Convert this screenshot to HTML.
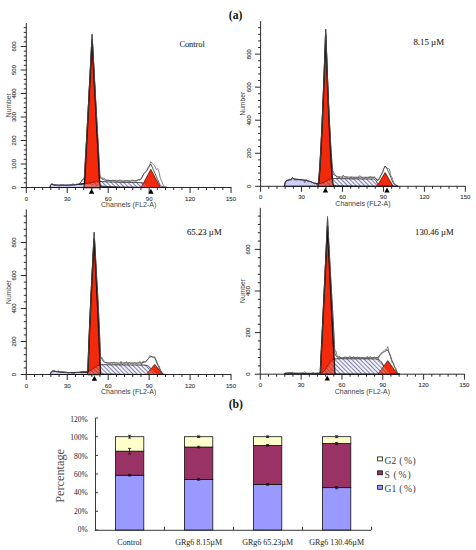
<!DOCTYPE html>
<html><head><meta charset="utf-8"><style>
html,body{margin:0;padding:0;background:#fff;}
svg{display:block;}
</style></head><body>
<svg width="476" height="550" viewBox="0 0 476 550">
<rect width="476" height="550" fill="#fff"/>
<defs><pattern id="hatch" patternUnits="userSpaceOnUse" width="3.0" height="3.0" patternTransform="rotate(-45)">
<rect width="3.0" height="3.0" fill="#f3f3fc"/><line x1="0.5" y1="0" x2="0.5" y2="3.0" stroke="#6e6e9c" stroke-width="0.85"/></pattern>
<pattern id="hatch2" patternUnits="userSpaceOnUse" width="3.0" height="3.0" patternTransform="rotate(-45)">
<rect width="3.0" height="3.0" fill="#f0e0f0" fill-opacity="0.3"/><line x1="0.5" y1="0" x2="0.5" y2="3.0" stroke="#601010" stroke-opacity="0.45" stroke-width="0.85"/></pattern></defs>
<path d="M49.78,187.50 L49.78,187.50 50.46,185.44 51.14,184.52 51.83,184.07 52.51,184.30 53.19,184.54 53.87,184.73 54.56,184.84 55.24,184.96 55.92,185.08 56.60,185.15 57.29,185.15 57.97,185.15 58.65,185.15 59.33,185.15 60.02,185.15 60.70,185.15 61.38,185.15 62.06,185.15 62.75,185.15 63.43,185.15 64.11,185.15 64.79,185.15 65.48,185.15 66.16,185.15 66.84,185.15 67.52,185.14 68.21,185.11 68.89,185.08 69.57,185.05 70.25,185.02 70.94,184.99 71.62,184.96 72.30,184.93 72.98,184.89 73.67,184.83 74.35,184.77 75.03,184.72 75.71,184.66 76.40,184.60 77.08,184.54 77.76,184.48 78.44,184.41 79.13,184.32 79.81,184.23 80.49,184.15 81.17,184.06 81.86,183.97 82.54,183.88 83.22,183.79 83.90,183.79 84.59,183.90 85.27,184.02 85.95,184.14 86.63,184.26 87.32,184.37 88.00,184.49 88.68,184.61 89.36,184.73 90.05,184.84 90.73,184.96 91.41,185.08 92.09,185.20 92.78,185.31 93.46,185.43 94.14,185.55 94.82,185.64 95.51,185.70 96.19,185.76 96.87,185.82 97.55,185.88 98.24,185.94 98.92,186.00 99.60,186.05 100.28,186.11 100.97,186.14 101.65,186.18 102.33,186.22 103.01,186.26 103.70,186.30 104.38,186.34 105.06,186.38 105.74,186.42 106.43,186.46 107.11,186.50 107.79,186.54 108.47,186.57 109.16,186.59 109.84,186.62 110.52,186.64 111.20,186.66 111.89,186.69 112.57,186.71 113.25,186.73 113.93,186.76 114.62,186.78 115.30,186.80 115.98,186.83 116.66,186.85 117.35,186.87 118.03,186.90 118.71,186.92 119.39,186.95 120.08,186.97 120.76,186.99 121.44,187.02 122.12,187.03 122.81,187.04 123.49,187.05 124.17,187.06 124.85,187.07 125.54,187.08 126.22,187.09 126.90,187.10 127.58,187.10 128.27,187.11 128.95,187.12 129.63,187.13 130.31,187.14 131.00,187.15 131.68,187.16 132.36,187.17 133.04,187.17 133.73,187.18 134.41,187.19 135.09,187.20 135.77,187.21 136.46,187.22 137.14,187.23 137.82,187.24 138.50,187.25 139.19,187.25 139.87,187.26 140.55,187.27 141.23,187.28 141.92,187.29 142.60,187.30 143.28,187.31 143.96,187.32 144.65,187.32 145.33,187.33 146.01,187.34 146.69,187.35 147.38,187.36 148.06,187.37 148.74,187.38 149.42,187.38 150.11,187.39 150.79,187.39 151.47,187.40 152.15,187.40 152.84,187.41 153.52,187.41 154.20,187.41 154.88,187.42 155.57,187.42 156.25,187.43 156.93,187.43 157.61,187.43 158.30,187.44 158.98,187.44 159.66,187.45 160.34,187.45 161.03,187.46 161.71,187.46 162.39,187.46 163.07,187.47 163.76,187.47 164.44,187.48 165.12,187.48 165.80,187.48 166.49,187.49 167.17,187.49 167.85,187.50 L167.85,187.50 Z" fill="#cdcdf5" stroke="#14143a" stroke-width="0.95"/>
<path d="M78.44,184.40 79.13,184.31 79.81,184.21 80.49,184.11 81.17,184.00 81.86,183.89 82.54,183.77 83.22,183.63 83.90,183.56 84.59,183.59 85.27,183.60 85.95,183.59 86.63,183.55 87.32,183.48 88.00,183.38 88.68,183.26 89.36,183.12 90.05,182.96 90.73,182.79 91.41,182.61 92.09,182.44 92.78,182.28 93.46,182.13 94.14,182.01 94.82,181.88 95.51,181.75 96.19,181.64 96.87,181.56 97.55,181.51 98.24,181.48 98.92,181.47 99.60,181.48 100.28,181.49 100.97,181.50 101.65,181.52 102.33,181.55 103.01,181.58 103.70,181.61 104.38,181.65 105.06,181.68 105.74,181.72 106.43,181.76 107.11,181.80 107.79,181.84 108.47,181.87 109.16,181.89 109.84,181.92 110.52,181.94 111.20,181.96 111.89,181.99 112.57,182.01 113.25,182.03 113.93,182.06 114.62,182.08 115.30,182.10 115.98,182.13 116.66,182.15 117.35,182.17 118.03,182.20 118.71,182.22 119.39,182.25 120.08,182.27 120.76,182.29 121.44,182.32 122.12,182.33 122.81,182.34 123.49,182.35 124.17,182.36 124.85,182.37 125.54,182.38 126.22,182.39 126.90,182.40 127.58,182.40 128.27,182.41 128.95,182.42 129.63,182.43 130.31,182.44 131.00,182.45 131.68,182.46 132.36,182.47 133.04,182.47 133.73,182.48 134.41,182.49 135.09,182.50 135.77,182.51 136.46,182.52 137.14,182.53 137.82,182.54 138.50,182.55 139.19,182.55 139.87,182.57 140.55,182.59 141.23,182.63 141.92,182.72 142.60,182.91 143.28,183.26 143.96,183.80 144.65,184.51 145.33,185.29 146.01,186.03 146.69,186.61 147.38,186.99 148.06,187.21 148.74,187.32 149.42,187.37 L149.42,187.38 148.74,187.38 148.06,187.37 147.38,187.36 146.69,187.35 146.01,187.34 145.33,187.33 144.65,187.32 143.96,187.32 143.28,187.31 142.60,187.30 141.92,187.29 141.23,187.28 140.55,187.27 139.87,187.26 139.19,187.25 138.50,187.25 137.82,187.24 137.14,187.23 136.46,187.22 135.77,187.21 135.09,187.20 134.41,187.19 133.73,187.18 133.04,187.17 132.36,187.17 131.68,187.16 131.00,187.15 130.31,187.14 129.63,187.13 128.95,187.12 128.27,187.11 127.58,187.10 126.90,187.10 126.22,187.09 125.54,187.08 124.85,187.07 124.17,187.06 123.49,187.05 122.81,187.04 122.12,187.03 121.44,187.02 120.76,186.99 120.08,186.97 119.39,186.95 118.71,186.92 118.03,186.90 117.35,186.87 116.66,186.85 115.98,186.83 115.30,186.80 114.62,186.78 113.93,186.76 113.25,186.73 112.57,186.71 111.89,186.69 111.20,186.66 110.52,186.64 109.84,186.62 109.16,186.59 108.47,186.57 107.79,186.54 107.11,186.50 106.43,186.46 105.74,186.42 105.06,186.38 104.38,186.34 103.70,186.30 103.01,186.26 102.33,186.22 101.65,186.18 100.97,186.14 100.28,186.11 99.60,186.05 98.92,186.00 98.24,185.94 97.55,185.88 96.87,185.82 96.19,185.76 95.51,185.70 94.82,185.64 94.14,185.55 93.46,185.43 92.78,185.31 92.09,185.20 91.41,185.08 90.73,184.96 90.05,184.84 89.36,184.73 88.68,184.61 88.00,184.49 87.32,184.37 86.63,184.26 85.95,184.14 85.27,184.02 84.59,183.90 83.90,183.79 83.22,183.79 82.54,183.88 81.86,183.97 81.17,184.06 80.49,184.15 79.81,184.23 79.13,184.32 78.44,184.41 Z" fill="url(#hatch)" stroke="#111" stroke-width="0.85"/>
<path d="M84.24,187.50 84.24,187.50 84.38,184.93 84.52,182.36 84.65,179.79 84.79,177.22 84.93,174.65 85.06,172.08 85.20,169.51 85.34,166.93 85.47,164.36 85.61,161.79 85.75,159.22 85.88,156.65 86.02,154.08 86.16,151.51 86.29,148.94 86.43,146.37 86.56,143.80 86.70,141.23 86.84,138.66 86.97,136.09 87.11,133.52 87.25,130.94 87.38,128.37 87.52,125.80 87.66,123.23 87.79,120.66 87.93,118.09 88.07,115.52 88.20,112.95 88.34,110.38 88.48,107.81 88.61,105.24 88.75,102.67 88.89,100.10 89.02,97.53 89.16,94.95 89.29,92.38 89.43,89.81 89.57,87.24 89.70,84.67 89.84,82.10 89.98,79.53 90.11,76.96 90.25,74.39 90.39,71.82 90.52,69.25 90.66,66.68 90.80,64.11 90.93,61.54 91.07,58.97 91.21,56.39 91.34,53.82 91.48,51.25 91.62,48.68 91.75,46.11 91.89,43.54 92.02,40.97 92.09,39.69 92.16,40.97 92.30,43.54 92.43,46.11 92.57,48.68 92.71,51.25 92.84,53.82 92.98,56.39 93.12,58.97 93.25,61.54 93.39,64.11 93.53,66.68 93.66,69.25 93.80,71.82 93.94,74.39 94.07,76.96 94.21,79.53 94.35,82.10 94.48,84.67 94.62,87.24 94.75,89.81 94.89,92.38 95.03,94.95 95.16,97.53 95.30,100.10 95.44,102.67 95.57,105.24 95.71,107.81 95.85,110.38 95.98,112.95 96.12,115.52 96.26,118.09 96.39,120.66 96.53,123.23 96.67,125.80 96.80,128.37 96.94,130.94 97.08,133.52 97.21,136.09 97.35,138.66 97.48,141.23 97.62,143.80 97.76,146.37 97.89,148.94 98.03,151.51 98.17,154.08 98.30,156.65 98.44,159.22 98.58,161.79 98.71,164.36 98.85,166.93 98.99,169.51 99.12,172.08 99.26,174.65 99.40,177.22 99.53,179.79 99.67,182.36 99.81,184.93 99.94,187.50 99.94,187.50 Z" fill="#f2290a" stroke="#1a0000" stroke-width="1.45" stroke-linejoin="round"/>
<path d="M141.10,187.50 141.10,187.50 141.23,187.24 141.37,186.99 141.51,186.73 141.65,186.47 141.78,186.22 141.92,185.96 142.06,185.70 142.20,185.45 142.33,185.19 142.47,184.93 142.61,184.68 142.75,184.42 142.88,184.16 143.02,183.91 143.16,183.65 143.30,183.39 143.43,183.14 143.57,182.88 143.71,182.62 143.85,182.37 143.98,182.11 144.12,181.85 144.26,181.60 144.40,181.34 144.53,181.08 144.67,180.83 144.81,180.57 144.95,180.31 145.08,180.06 145.22,179.80 145.36,179.54 145.50,179.29 145.63,179.03 145.77,178.77 145.91,178.52 146.05,178.26 146.18,178.00 146.32,177.75 146.46,177.49 146.60,177.23 146.73,176.98 146.87,176.72 147.01,176.46 147.15,176.21 147.28,175.95 147.42,175.69 147.56,175.44 147.69,175.18 147.83,174.92 147.97,174.67 148.11,174.41 148.24,174.15 148.38,173.90 148.52,173.64 148.66,173.38 148.79,173.13 148.93,172.87 149.07,172.61 149.21,172.36 149.34,172.10 149.48,171.84 149.62,171.59 149.76,171.33 149.89,171.07 150.03,170.82 150.17,170.56 150.31,170.30 150.44,170.05 150.58,169.79 150.72,169.53 150.79,169.41 150.86,169.53 150.99,169.79 151.13,170.05 151.27,170.30 151.41,170.56 151.54,170.82 151.68,171.07 151.82,171.33 151.96,171.59 152.09,171.84 152.23,172.10 152.37,172.36 152.51,172.61 152.64,172.87 152.78,173.13 152.92,173.38 153.06,173.64 153.19,173.90 153.33,174.15 153.47,174.41 153.61,174.67 153.74,174.92 153.88,175.18 154.02,175.44 154.16,175.69 154.29,175.95 154.43,176.21 154.57,176.46 154.71,176.72 154.84,176.98 154.98,177.23 155.12,177.49 155.26,177.75 155.39,178.00 155.53,178.26 155.67,178.52 155.81,178.77 155.94,179.03 156.08,179.29 156.22,179.54 156.36,179.80 156.49,180.06 156.63,180.31 156.77,180.57 156.91,180.83 157.04,181.08 157.18,181.34 157.32,181.60 157.46,181.85 157.59,182.11 157.73,182.37 157.87,182.62 158.01,182.88 158.14,183.14 158.28,183.39 158.42,183.65 158.55,183.91 158.69,184.16 158.83,184.42 158.97,184.68 159.10,184.93 159.24,185.19 159.38,185.45 159.52,185.70 159.65,185.96 159.79,186.22 159.93,186.47 160.07,186.73 160.20,186.99 160.34,187.24 160.48,187.50 160.48,187.50 Z" fill="#f2290a" stroke="#3a0505" stroke-width="0.9" stroke-linejoin="round"/>
<clipPath id="rc1"><path d="M84.24,187.50 84.24,187.50 84.38,184.93 84.52,182.36 84.65,179.79 84.79,177.22 84.93,174.65 85.06,172.08 85.20,169.51 85.34,166.93 85.47,164.36 85.61,161.79 85.75,159.22 85.88,156.65 86.02,154.08 86.16,151.51 86.29,148.94 86.43,146.37 86.56,143.80 86.70,141.23 86.84,138.66 86.97,136.09 87.11,133.52 87.25,130.94 87.38,128.37 87.52,125.80 87.66,123.23 87.79,120.66 87.93,118.09 88.07,115.52 88.20,112.95 88.34,110.38 88.48,107.81 88.61,105.24 88.75,102.67 88.89,100.10 89.02,97.53 89.16,94.95 89.29,92.38 89.43,89.81 89.57,87.24 89.70,84.67 89.84,82.10 89.98,79.53 90.11,76.96 90.25,74.39 90.39,71.82 90.52,69.25 90.66,66.68 90.80,64.11 90.93,61.54 91.07,58.97 91.21,56.39 91.34,53.82 91.48,51.25 91.62,48.68 91.75,46.11 91.89,43.54 92.02,40.97 92.09,39.69 92.16,40.97 92.30,43.54 92.43,46.11 92.57,48.68 92.71,51.25 92.84,53.82 92.98,56.39 93.12,58.97 93.25,61.54 93.39,64.11 93.53,66.68 93.66,69.25 93.80,71.82 93.94,74.39 94.07,76.96 94.21,79.53 94.35,82.10 94.48,84.67 94.62,87.24 94.75,89.81 94.89,92.38 95.03,94.95 95.16,97.53 95.30,100.10 95.44,102.67 95.57,105.24 95.71,107.81 95.85,110.38 95.98,112.95 96.12,115.52 96.26,118.09 96.39,120.66 96.53,123.23 96.67,125.80 96.80,128.37 96.94,130.94 97.08,133.52 97.21,136.09 97.35,138.66 97.48,141.23 97.62,143.80 97.76,146.37 97.89,148.94 98.03,151.51 98.17,154.08 98.30,156.65 98.44,159.22 98.58,161.79 98.71,164.36 98.85,166.93 98.99,169.51 99.12,172.08 99.26,174.65 99.40,177.22 99.53,179.79 99.67,182.36 99.81,184.93 99.94,187.50 99.94,187.50 Z M141.10,187.50 141.10,187.50 141.23,187.24 141.37,186.99 141.51,186.73 141.65,186.47 141.78,186.22 141.92,185.96 142.06,185.70 142.20,185.45 142.33,185.19 142.47,184.93 142.61,184.68 142.75,184.42 142.88,184.16 143.02,183.91 143.16,183.65 143.30,183.39 143.43,183.14 143.57,182.88 143.71,182.62 143.85,182.37 143.98,182.11 144.12,181.85 144.26,181.60 144.40,181.34 144.53,181.08 144.67,180.83 144.81,180.57 144.95,180.31 145.08,180.06 145.22,179.80 145.36,179.54 145.50,179.29 145.63,179.03 145.77,178.77 145.91,178.52 146.05,178.26 146.18,178.00 146.32,177.75 146.46,177.49 146.60,177.23 146.73,176.98 146.87,176.72 147.01,176.46 147.15,176.21 147.28,175.95 147.42,175.69 147.56,175.44 147.69,175.18 147.83,174.92 147.97,174.67 148.11,174.41 148.24,174.15 148.38,173.90 148.52,173.64 148.66,173.38 148.79,173.13 148.93,172.87 149.07,172.61 149.21,172.36 149.34,172.10 149.48,171.84 149.62,171.59 149.76,171.33 149.89,171.07 150.03,170.82 150.17,170.56 150.31,170.30 150.44,170.05 150.58,169.79 150.72,169.53 150.79,169.41 150.86,169.53 150.99,169.79 151.13,170.05 151.27,170.30 151.41,170.56 151.54,170.82 151.68,171.07 151.82,171.33 151.96,171.59 152.09,171.84 152.23,172.10 152.37,172.36 152.51,172.61 152.64,172.87 152.78,173.13 152.92,173.38 153.06,173.64 153.19,173.90 153.33,174.15 153.47,174.41 153.61,174.67 153.74,174.92 153.88,175.18 154.02,175.44 154.16,175.69 154.29,175.95 154.43,176.21 154.57,176.46 154.71,176.72 154.84,176.98 154.98,177.23 155.12,177.49 155.26,177.75 155.39,178.00 155.53,178.26 155.67,178.52 155.81,178.77 155.94,179.03 156.08,179.29 156.22,179.54 156.36,179.80 156.49,180.06 156.63,180.31 156.77,180.57 156.91,180.83 157.04,181.08 157.18,181.34 157.32,181.60 157.46,181.85 157.59,182.11 157.73,182.37 157.87,182.62 158.01,182.88 158.14,183.14 158.28,183.39 158.42,183.65 158.55,183.91 158.69,184.16 158.83,184.42 158.97,184.68 159.10,184.93 159.24,185.19 159.38,185.45 159.52,185.70 159.65,185.96 159.79,186.22 159.93,186.47 160.07,186.73 160.20,186.99 160.34,187.24 160.48,187.50 160.48,187.50 Z"/></clipPath>
<path d="M78.44,184.40 79.13,184.31 79.81,184.21 80.49,184.11 81.17,184.00 81.86,183.89 82.54,183.77 83.22,183.63 83.90,183.56 84.59,183.59 85.27,183.60 85.95,183.59 86.63,183.55 87.32,183.48 88.00,183.38 88.68,183.26 89.36,183.12 90.05,182.96 90.73,182.79 91.41,182.61 92.09,182.44 92.78,182.28 93.46,182.13 94.14,182.01 94.82,181.88 95.51,181.75 96.19,181.64 96.87,181.56 97.55,181.51 98.24,181.48 98.92,181.47 99.60,181.48 100.28,181.49 100.97,181.50 101.65,181.52 102.33,181.55 103.01,181.58 103.70,181.61 104.38,181.65 105.06,181.68 105.74,181.72 106.43,181.76 107.11,181.80 107.79,181.84 108.47,181.87 109.16,181.89 109.84,181.92 110.52,181.94 111.20,181.96 111.89,181.99 112.57,182.01 113.25,182.03 113.93,182.06 114.62,182.08 115.30,182.10 115.98,182.13 116.66,182.15 117.35,182.17 118.03,182.20 118.71,182.22 119.39,182.25 120.08,182.27 120.76,182.29 121.44,182.32 122.12,182.33 122.81,182.34 123.49,182.35 124.17,182.36 124.85,182.37 125.54,182.38 126.22,182.39 126.90,182.40 127.58,182.40 128.27,182.41 128.95,182.42 129.63,182.43 130.31,182.44 131.00,182.45 131.68,182.46 132.36,182.47 133.04,182.47 133.73,182.48 134.41,182.49 135.09,182.50 135.77,182.51 136.46,182.52 137.14,182.53 137.82,182.54 138.50,182.55 139.19,182.55 139.87,182.57 140.55,182.59 141.23,182.63 141.92,182.72 142.60,182.91 143.28,183.26 143.96,183.80 144.65,184.51 145.33,185.29 146.01,186.03 146.69,186.61 147.38,186.99 148.06,187.21 148.74,187.32 149.42,187.37 L149.42,187.38 148.74,187.38 148.06,187.37 147.38,187.36 146.69,187.35 146.01,187.34 145.33,187.33 144.65,187.32 143.96,187.32 143.28,187.31 142.60,187.30 141.92,187.29 141.23,187.28 140.55,187.27 139.87,187.26 139.19,187.25 138.50,187.25 137.82,187.24 137.14,187.23 136.46,187.22 135.77,187.21 135.09,187.20 134.41,187.19 133.73,187.18 133.04,187.17 132.36,187.17 131.68,187.16 131.00,187.15 130.31,187.14 129.63,187.13 128.95,187.12 128.27,187.11 127.58,187.10 126.90,187.10 126.22,187.09 125.54,187.08 124.85,187.07 124.17,187.06 123.49,187.05 122.81,187.04 122.12,187.03 121.44,187.02 120.76,186.99 120.08,186.97 119.39,186.95 118.71,186.92 118.03,186.90 117.35,186.87 116.66,186.85 115.98,186.83 115.30,186.80 114.62,186.78 113.93,186.76 113.25,186.73 112.57,186.71 111.89,186.69 111.20,186.66 110.52,186.64 109.84,186.62 109.16,186.59 108.47,186.57 107.79,186.54 107.11,186.50 106.43,186.46 105.74,186.42 105.06,186.38 104.38,186.34 103.70,186.30 103.01,186.26 102.33,186.22 101.65,186.18 100.97,186.14 100.28,186.11 99.60,186.05 98.92,186.00 98.24,185.94 97.55,185.88 96.87,185.82 96.19,185.76 95.51,185.70 94.82,185.64 94.14,185.55 93.46,185.43 92.78,185.31 92.09,185.20 91.41,185.08 90.73,184.96 90.05,184.84 89.36,184.73 88.68,184.61 88.00,184.49 87.32,184.37 86.63,184.26 85.95,184.14 85.27,184.02 84.59,183.90 83.90,183.79 83.22,183.79 82.54,183.88 81.86,183.97 81.17,184.06 80.49,184.15 79.81,184.23 79.13,184.32 78.44,184.41 Z" fill="url(#hatch2)" stroke="none" clip-path="url(#rc1)"/>
<path d="M84.24,187.50 L84.24,187.50 84.38,184.93 84.52,183.89 84.65,183.92 84.79,183.94 84.93,183.96 85.06,183.99 85.20,184.01 85.34,184.03 85.47,184.06 85.61,184.08 85.75,184.10 85.88,184.13 86.02,184.15 86.16,184.17 86.29,184.20 86.43,184.22 86.56,184.25 86.70,184.27 86.84,184.29 86.97,184.32 87.11,184.34 87.25,184.36 87.38,184.39 87.52,184.41 87.66,184.43 87.79,184.46 87.93,184.48 88.07,184.50 88.20,184.53 88.34,184.55 88.48,184.57 88.61,184.60 88.75,184.62 88.89,184.64 89.02,184.67 89.16,184.69 89.29,184.72 89.43,184.74 89.57,184.76 89.70,184.79 89.84,184.81 89.98,184.83 90.11,184.86 90.25,184.88 90.39,184.90 90.52,184.93 90.66,184.95 90.80,184.97 90.93,185.00 91.07,185.02 91.21,185.04 91.34,185.07 91.48,185.09 91.62,185.11 91.75,185.14 91.89,185.16 92.02,185.19 92.16,185.21 92.30,185.23 92.43,185.26 92.57,185.28 92.71,185.30 92.84,185.33 92.98,185.35 93.12,185.37 93.25,185.40 93.39,185.42 93.53,185.44 93.66,185.47 93.80,185.49 93.94,185.51 94.07,185.54 94.21,185.56 94.35,185.58 94.48,185.61 94.62,185.63 94.75,185.64 94.89,185.65 95.03,185.66 95.16,185.67 95.30,185.68 95.44,185.70 95.57,185.71 95.71,185.72 95.85,185.73 95.98,185.74 96.12,185.76 96.26,185.77 96.39,185.78 96.53,185.79 96.67,185.80 96.80,185.81 96.94,185.83 97.08,185.84 97.21,185.85 97.35,185.86 97.48,185.87 97.62,185.88 97.76,185.90 97.89,185.91 98.03,185.92 98.17,185.93 98.30,185.94 98.44,185.95 98.58,185.97 98.71,185.98 98.85,185.99 98.99,186.00 99.12,186.01 99.26,186.03 99.40,186.04 99.53,186.05 99.67,186.06 99.81,186.07 99.94,187.50 L99.94,187.50 Z" fill="#dcd0f0" fill-opacity="0.45" stroke="none"/>
<polyline points="84.52,183.59 84.65,183.59 84.79,183.60 84.93,183.60 85.06,183.60 85.20,183.60 85.34,183.60 85.47,183.60 85.61,183.60 85.75,183.59 85.88,183.59 86.02,183.58 86.16,183.58 86.29,183.57 86.43,183.56 86.56,183.55 86.70,183.54 86.84,183.53 86.97,183.52 87.11,183.50 87.25,183.49 87.38,183.47 87.52,183.45 87.66,183.43 87.79,183.41 87.93,183.39 88.07,183.37 88.20,183.35 88.34,183.32 88.48,183.30 88.61,183.27 88.75,183.25 88.89,183.22 89.02,183.19 89.16,183.16 89.29,183.13 89.43,183.10 89.57,183.07 89.70,183.04 89.84,183.01 89.98,182.98 90.11,182.94 90.25,182.91 90.39,182.87 90.52,182.84 90.66,182.80 90.80,182.77 90.93,182.74 91.07,182.70 91.21,182.66 91.34,182.63 91.48,182.59 91.62,182.56 91.75,182.53 91.89,182.49 92.02,182.46 92.16,182.42 92.30,182.39 92.43,182.36 92.57,182.32 92.71,182.29 92.84,182.26 92.98,182.23 93.12,182.20 93.25,182.17 93.39,182.14 93.53,182.12 93.66,182.09 93.80,182.07 93.94,182.04 94.07,182.02 94.21,181.99 94.35,181.97 94.48,181.95 94.62,181.93 94.75,181.90 94.89,181.87 95.03,181.84 95.16,181.81 95.30,181.78 95.44,181.76 95.57,181.74 95.71,181.71 95.85,181.69 95.98,181.67 96.12,181.65 96.26,181.63 96.39,181.62 96.53,181.60 96.67,181.59 96.80,181.57 96.94,181.56 97.08,181.55 97.21,181.54 97.35,181.53 97.48,181.52 97.62,181.51 97.76,181.50 97.89,181.49 98.03,181.49 98.17,181.48 98.30,181.48 98.44,181.48 98.58,181.47 98.71,181.47 98.85,181.47 98.99,181.47 99.12,181.47 99.26,181.47 99.40,181.48 99.53,181.48" fill="none" stroke="#5a0000" stroke-width="0.6"/>
<polyline points="49.78,187.50 51.14,184.52 52.51,184.30 53.87,184.73 55.24,184.96 56.60,185.15 57.97,185.15 59.33,185.15 60.70,185.15 62.06,185.15 63.43,185.15 64.79,185.15 66.16,185.15 67.52,185.14 68.89,185.08 70.25,185.02 71.62,184.96 72.98,184.89 74.35,184.77 75.71,184.66 77.08,184.53 78.44,184.30 79.81,183.58 81.17,181.80 82.54,179.54 83.90,179.07 84.31,178.23 84.45,175.84 84.59,173.47 84.72,171.10 84.86,168.74 85.00,166.39 85.13,164.04 85.27,161.69 85.40,159.33 85.54,156.97 85.68,154.60 85.81,152.23 85.95,149.84 86.09,147.44 86.22,145.02 86.36,142.60 86.50,140.16 86.63,137.70 86.77,135.24 86.91,132.76 87.04,130.27 87.18,127.76 87.32,125.25 87.45,122.72 87.59,120.19 87.72,117.64 87.86,115.09 88.00,112.53 88.13,109.97 88.27,107.40 88.41,104.82 88.54,102.24 88.68,99.66 88.82,97.07 88.95,94.48 89.09,91.89 89.23,89.30 89.36,86.70 89.50,84.10 89.64,81.50 89.77,78.90 89.91,76.30 90.05,73.70 90.18,71.10 90.32,68.49 90.45,65.89 90.59,63.28 90.73,60.68 90.86,58.07 91.00,55.47 91.14,52.86 91.27,50.25 91.41,47.65 91.55,45.04 91.68,42.43 91.82,39.83 91.96,37.22 92.09,34.61 92.23,37.15 92.37,39.68 92.50,42.21 92.64,44.75 92.78,47.28 92.91,49.81 93.05,52.34 93.19,54.87 93.32,57.40 93.46,59.93 93.59,62.46 93.73,64.99 93.87,67.51 94.00,70.03 94.14,72.55 94.28,75.07 94.41,77.58 94.55,80.09 94.69,82.59 94.82,85.08 94.96,87.57 95.10,90.05 95.23,92.53 95.37,95.00 95.51,97.47 95.64,99.93 95.78,102.39 95.91,104.84 96.05,107.29 96.19,109.73 96.32,112.17 96.46,114.61 96.60,117.04 96.73,119.46 96.87,121.89 97.01,124.31 97.14,126.73 97.28,129.15 97.42,131.57 97.55,134.00 97.69,136.42 97.83,138.85 97.96,141.29 98.10,143.73 98.24,146.17 98.37,148.63 98.51,151.09 98.64,153.56 98.78,156.05 98.92,158.54 99.05,161.05 99.19,163.56 99.33,166.10 99.46,168.64 99.60,171.19 99.74,173.76 99.87,176.34 100.28,177.72 101.65,178.54 103.01,179.48 104.38,180.03 105.74,180.27 107.11,180.38 108.47,180.46 109.84,180.51 111.20,180.55 112.57,180.60 113.93,180.65 115.30,180.69 116.66,180.74 118.03,180.79 119.39,180.84 120.76,180.88 122.12,180.92 123.49,180.94 124.85,180.95 126.22,180.96 127.58,180.97 128.95,180.97 130.31,180.95 131.68,180.90 133.04,180.83 134.41,180.70 135.77,180.51 137.14,180.24 138.50,179.89 139.87,179.46 141.23,178.73 142.60,175.90 143.96,173.67 145.33,172.13 146.69,170.57 148.06,168.52 149.42,166.24 150.79,164.02 152.15,167.01 153.52,170.07 154.88,173.19 156.25,176.35 157.61,179.50 158.98,182.63 160.34,185.69 161.71,186.37 163.07,186.72 164.44,186.98 165.80,187.17 167.17,187.30" fill="none" stroke="#1a1a1a" stroke-width="0.7" stroke-linejoin="round"/>
<polyline points="49.78,186.83 51.14,183.71 52.51,184.27 53.87,185.15 55.24,185.57 56.60,185.13 57.97,185.71 59.33,185.94 60.70,185.04 62.06,185.08 63.43,184.85 64.79,185.65 66.16,185.15 67.52,185.17 68.89,185.91 70.25,184.72 71.62,184.78 72.98,183.56 74.35,184.66 75.71,184.74 77.08,183.84 78.44,184.19 79.81,183.05 81.17,182.02 82.54,179.40 83.90,178.42 84.31,177.62 84.45,175.23 84.59,172.84 84.72,170.47 84.86,168.11 85.00,165.76 85.13,163.41 85.27,161.07 85.40,158.74 85.54,156.41 85.68,154.08 85.81,151.74 85.95,149.41 86.09,147.07 86.22,144.72 86.36,142.35 86.50,139.97 86.63,137.57 86.77,135.23 86.91,132.88 87.04,130.51 87.18,128.13 87.32,125.74 87.45,123.34 87.59,120.93 87.72,118.51 87.86,116.09 88.00,113.65 88.13,110.93 88.27,108.20 88.41,105.47 88.54,102.73 88.68,99.99 88.82,97.25 88.95,94.50 89.09,91.75 89.23,89.00 89.36,86.24 89.50,83.68 89.64,81.12 89.77,78.56 89.91,75.99 90.05,73.43 90.18,70.86 90.32,68.30 90.45,65.73 90.59,63.17 90.73,60.60 90.86,57.93 91.00,55.25 91.14,52.58 91.27,49.91 91.41,47.23 91.55,44.56 91.68,41.89 91.82,39.21 91.96,36.54 92.09,33.87 92.23,36.45 92.37,39.04 92.50,41.62 92.64,44.21 92.78,46.79 92.91,49.38 93.05,51.96 93.19,54.55 93.32,57.13 93.46,59.71 93.59,62.15 93.73,64.58 93.87,67.02 94.00,69.45 94.14,71.88 94.28,74.30 94.41,76.73 94.55,79.15 94.69,81.55 94.82,83.95 94.96,86.56 95.10,89.16 95.23,91.75 95.37,94.34 95.51,96.93 95.64,99.51 95.78,102.08 95.91,104.64 96.05,107.20 96.19,109.75 96.32,112.15 96.46,114.53 96.60,116.91 96.73,119.27 96.87,121.62 97.01,123.96 97.14,126.28 97.28,128.59 97.42,130.88 97.55,133.16 97.69,135.40 97.83,137.63 97.96,139.85 98.10,142.07 98.24,144.29 98.37,146.52 98.51,148.76 98.64,151.02 98.78,153.33 98.92,155.67 99.05,158.27 99.19,160.90 99.33,163.56 99.46,166.26 99.60,168.98 99.74,171.74 99.87,174.51 100.28,176.59 101.65,177.54 103.01,178.41 104.38,178.09 105.74,180.20 107.11,179.97 108.47,180.07 109.84,180.68 111.20,181.51 112.57,180.00 113.93,180.90 115.30,180.25 116.66,181.55 118.03,181.06 119.39,180.06 120.76,180.00 122.12,181.72 123.49,181.76 124.85,180.98 126.22,180.52 127.58,180.87 128.95,180.78 130.31,181.55 131.68,180.54 133.04,180.14 134.41,180.97 135.77,181.40 137.14,180.72 138.50,179.41 139.87,180.56 141.23,178.79 142.60,176.58 143.96,173.77 145.33,172.31 146.69,170.55 148.06,167.31 149.42,165.72 150.79,161.64 152.15,163.38 153.52,164.78 154.88,166.15 156.25,169.64 157.61,168.47 158.98,171.72 160.34,178.32 161.71,181.25 163.07,184.80 164.44,187.49 165.80,187.05 167.17,187.50" fill="none" stroke="#555" stroke-width="0.7" stroke-linejoin="round"/>
<g stroke="#141414" stroke-width="0.9"><line x1="26.30" y1="23.00" x2="26.30" y2="193.00"/><line x1="20.80" y1="187.50" x2="231.45" y2="187.50"/><line x1="23.80" y1="182.80" x2="26.30" y2="182.80"/><line x1="23.80" y1="178.10" x2="26.30" y2="178.10"/><line x1="23.80" y1="173.40" x2="26.30" y2="173.40"/><line x1="23.80" y1="168.70" x2="26.30" y2="168.70"/><line x1="20.80" y1="164.00" x2="26.30" y2="164.00"/><line x1="23.80" y1="159.30" x2="26.30" y2="159.30"/><line x1="23.80" y1="154.60" x2="26.30" y2="154.60"/><line x1="23.80" y1="149.90" x2="26.30" y2="149.90"/><line x1="23.80" y1="145.20" x2="26.30" y2="145.20"/><line x1="20.80" y1="140.50" x2="26.30" y2="140.50"/><line x1="23.80" y1="135.80" x2="26.30" y2="135.80"/><line x1="23.80" y1="131.10" x2="26.30" y2="131.10"/><line x1="23.80" y1="126.40" x2="26.30" y2="126.40"/><line x1="23.80" y1="121.70" x2="26.30" y2="121.70"/><line x1="20.80" y1="117.00" x2="26.30" y2="117.00"/><line x1="23.80" y1="112.30" x2="26.30" y2="112.30"/><line x1="23.80" y1="107.60" x2="26.30" y2="107.60"/><line x1="23.80" y1="102.90" x2="26.30" y2="102.90"/><line x1="23.80" y1="98.20" x2="26.30" y2="98.20"/><line x1="20.80" y1="93.50" x2="26.30" y2="93.50"/><line x1="23.80" y1="88.80" x2="26.30" y2="88.80"/><line x1="23.80" y1="84.10" x2="26.30" y2="84.10"/><line x1="23.80" y1="79.40" x2="26.30" y2="79.40"/><line x1="23.80" y1="74.70" x2="26.30" y2="74.70"/><line x1="20.80" y1="70.00" x2="26.30" y2="70.00"/><line x1="23.80" y1="65.30" x2="26.30" y2="65.30"/><line x1="23.80" y1="60.60" x2="26.30" y2="60.60"/><line x1="23.80" y1="55.90" x2="26.30" y2="55.90"/><line x1="23.80" y1="51.20" x2="26.30" y2="51.20"/><line x1="20.80" y1="46.50" x2="26.30" y2="46.50"/><line x1="23.80" y1="41.80" x2="26.30" y2="41.80"/><line x1="23.80" y1="37.10" x2="26.30" y2="37.10"/><line x1="23.80" y1="32.40" x2="26.30" y2="32.40"/><line x1="23.80" y1="27.70" x2="26.30" y2="27.70"/><line x1="34.49" y1="187.50" x2="34.49" y2="190.00"/><line x1="42.68" y1="187.50" x2="42.68" y2="190.00"/><line x1="50.87" y1="187.50" x2="50.87" y2="190.00"/><line x1="59.06" y1="187.50" x2="59.06" y2="190.00"/><line x1="67.25" y1="187.50" x2="67.25" y2="193.00"/><line x1="75.44" y1="187.50" x2="75.44" y2="190.00"/><line x1="83.63" y1="187.50" x2="83.63" y2="190.00"/><line x1="91.82" y1="187.50" x2="91.82" y2="190.00"/><line x1="100.01" y1="187.50" x2="100.01" y2="190.00"/><line x1="108.20" y1="187.50" x2="108.20" y2="193.00"/><line x1="116.39" y1="187.50" x2="116.39" y2="190.00"/><line x1="124.58" y1="187.50" x2="124.58" y2="190.00"/><line x1="132.77" y1="187.50" x2="132.77" y2="190.00"/><line x1="140.96" y1="187.50" x2="140.96" y2="190.00"/><line x1="149.15" y1="187.50" x2="149.15" y2="193.00"/><line x1="157.34" y1="187.50" x2="157.34" y2="190.00"/><line x1="165.53" y1="187.50" x2="165.53" y2="190.00"/><line x1="173.72" y1="187.50" x2="173.72" y2="190.00"/><line x1="181.91" y1="187.50" x2="181.91" y2="190.00"/><line x1="190.10" y1="187.50" x2="190.10" y2="193.00"/><line x1="198.29" y1="187.50" x2="198.29" y2="190.00"/><line x1="206.48" y1="187.50" x2="206.48" y2="190.00"/><line x1="214.67" y1="187.50" x2="214.67" y2="190.00"/><line x1="222.86" y1="187.50" x2="222.86" y2="190.00"/><line x1="231.05" y1="187.50" x2="231.05" y2="193.00"/></g>
<g font-family="Liberation Sans, sans-serif" font-size="6" fill="#3a3a3a" stroke="#3a3a3a" stroke-width="0.12"><text transform="translate(16.30,187.50) rotate(-90)" text-anchor="middle">0</text><text transform="translate(16.30,164.00) rotate(-90)" text-anchor="middle">100</text><text transform="translate(16.30,140.50) rotate(-90)" text-anchor="middle">200</text><text transform="translate(16.30,117.00) rotate(-90)" text-anchor="middle">300</text><text transform="translate(16.30,93.50) rotate(-90)" text-anchor="middle">400</text><text transform="translate(16.30,70.00) rotate(-90)" text-anchor="middle">500</text><text transform="translate(16.30,46.50) rotate(-90)" text-anchor="middle">600</text><text x="26.30" y="200.50" text-anchor="middle">0</text><text x="67.25" y="200.50" text-anchor="middle">30</text><text x="108.20" y="200.50" text-anchor="middle">60</text><text x="149.15" y="200.50" text-anchor="middle">90</text><text x="190.10" y="200.50" text-anchor="middle">120</text><text x="231.05" y="200.50" text-anchor="middle">150</text></g>
<text x="128.68" y="207.20" text-anchor="middle" font-family="Liberation Sans, sans-serif" font-size="7" fill="#404040">Channels (FL2-A)</text>
<text transform="translate(10.50,105.25) rotate(-90)" text-anchor="middle" font-family="Liberation Sans, sans-serif" font-size="6.7" fill="#404040">Number</text>
<path d="M91.55,188.80 L88.85,193.70 L94.25,193.70 Z" fill="#000"/>
<path d="M150.92,188.80 L148.22,193.70 L153.62,193.70 Z" fill="#000"/>
<text x="179.40" y="47.00" font-family="Liberation Serif, serif" font-size="9"  textLength="25.4" lengthAdjust="spacingAndGlyphs" fill="#222" stroke="#222" stroke-width="0.08">Control</text>
<path d="M284.35,186.30 L284.35,186.30 285.03,182.67 285.72,181.49 286.40,180.84 287.08,180.54 287.76,180.25 288.45,180.09 289.13,179.96 289.81,179.84 290.49,179.72 291.18,179.16 291.86,178.50 292.54,177.84 293.22,178.24 293.91,178.90 294.59,179.08 295.27,179.15 295.95,179.22 296.64,179.28 297.32,179.35 298.00,179.41 298.68,179.46 299.37,179.52 300.05,179.57 300.73,179.63 301.41,179.68 302.10,179.78 302.78,179.89 303.46,180.00 304.14,180.11 304.83,180.22 305.51,180.33 306.19,180.48 306.87,180.65 307.56,180.82 308.24,180.98 308.92,181.15 309.60,181.31 310.29,181.56 310.97,181.84 311.65,182.11 312.33,182.39 313.02,182.67 313.70,182.94 314.38,183.13 315.06,183.29 315.75,183.46 316.43,183.62 317.11,183.79 317.79,183.95 318.48,184.02 319.16,184.06 319.84,184.10 320.52,184.14 321.21,184.19 321.89,184.23 322.57,184.27 323.25,184.31 323.94,184.42 324.62,184.54 325.30,184.66 325.98,184.79 326.67,184.91 327.35,185.04 328.03,185.16 328.71,185.28 329.40,185.34 330.08,185.38 330.76,185.42 331.44,185.47 332.13,185.51 332.81,185.55 333.49,185.59 334.17,185.63 334.86,185.67 335.54,185.71 336.22,185.75 336.90,185.80 337.59,185.81 338.27,185.83 338.95,185.84 339.63,185.85 340.32,185.86 341.00,185.87 341.68,185.88 342.36,185.90 343.05,185.91 343.73,185.92 344.41,185.93 345.09,185.94 345.78,185.96 346.46,185.97 347.14,185.98 347.82,185.99 348.51,186.00 349.19,186.01 349.87,186.03 350.55,186.04 351.24,186.05 351.92,186.06 352.60,186.07 353.28,186.09 353.97,186.10 354.65,186.11 355.33,186.12 356.01,186.13 356.70,186.14 357.38,186.14 358.06,186.14 358.74,186.15 359.43,186.15 360.11,186.15 360.79,186.15 361.47,186.16 362.16,186.16 362.84,186.16 363.52,186.16 364.20,186.17 364.89,186.17 365.57,186.17 366.25,186.18 366.93,186.18 367.62,186.18 368.30,186.18 368.98,186.19 369.66,186.19 370.35,186.19 371.03,186.19 371.71,186.20 372.39,186.20 373.08,186.20 373.76,186.21 374.44,186.21 375.12,186.21 375.81,186.21 376.49,186.22 377.17,186.22 377.85,186.22 378.54,186.23 379.22,186.23 379.90,186.23 380.58,186.23 381.27,186.24 381.95,186.24 382.63,186.24 383.31,186.24 384.00,186.25 384.68,186.25 385.36,186.25 386.04,186.26 386.73,186.26 387.41,186.26 388.09,186.26 388.77,186.27 389.46,186.27 390.14,186.27 390.82,186.27 391.50,186.28 392.19,186.28 392.87,186.28 393.55,186.29 394.23,186.29 394.92,186.29 395.60,186.29 396.28,186.30 396.96,186.30 397.65,186.30 398.33,186.30 L398.33,186.30 Z" fill="#cdcdf5" stroke="#14143a" stroke-width="0.95"/>
<path d="M315.06,183.28 315.75,183.43 316.43,183.58 317.11,183.72 317.79,183.85 318.48,183.85 319.16,183.81 319.84,183.74 320.52,183.62 321.21,183.46 321.89,183.25 322.57,182.98 323.25,182.66 323.94,182.35 324.62,182.02 325.30,181.65 325.98,181.26 326.67,180.87 327.35,180.49 328.03,180.13 328.71,179.82 329.40,179.50 330.08,179.21 330.76,178.97 331.44,178.79 332.13,178.66 332.81,178.57 333.49,178.52 334.17,178.49 334.86,178.48 335.54,178.49 336.22,178.52 336.90,178.54 337.59,178.55 338.27,178.56 338.95,178.57 339.63,178.58 340.32,178.59 341.00,178.60 341.68,178.62 342.36,178.63 343.05,178.64 343.73,178.65 344.41,178.66 345.09,178.67 345.78,178.69 346.46,178.70 347.14,178.71 347.82,178.72 348.51,178.73 349.19,178.75 349.87,178.76 350.55,178.77 351.24,178.78 351.92,178.79 352.60,178.80 353.28,178.82 353.97,178.83 354.65,178.84 355.33,178.85 356.01,178.86 356.70,178.87 357.38,178.87 358.06,178.87 358.74,178.88 359.43,178.88 360.11,178.88 360.79,178.88 361.47,178.89 362.16,178.89 362.84,178.89 363.52,178.90 364.20,178.90 364.89,178.90 365.57,178.90 366.25,178.91 366.93,178.91 367.62,178.91 368.30,178.92 368.98,178.92 369.66,178.92 370.35,178.92 371.03,178.93 371.71,178.93 372.39,178.94 373.08,178.95 373.76,179.01 374.44,179.20 375.12,179.65 375.81,180.49 376.49,181.73 377.17,183.16 377.85,184.46 378.54,185.39 379.22,185.90 379.90,186.13 380.58,186.21 L380.58,186.23 379.90,186.23 379.22,186.23 378.54,186.23 377.85,186.22 377.17,186.22 376.49,186.22 375.81,186.21 375.12,186.21 374.44,186.21 373.76,186.21 373.08,186.20 372.39,186.20 371.71,186.20 371.03,186.19 370.35,186.19 369.66,186.19 368.98,186.19 368.30,186.18 367.62,186.18 366.93,186.18 366.25,186.18 365.57,186.17 364.89,186.17 364.20,186.17 363.52,186.16 362.84,186.16 362.16,186.16 361.47,186.16 360.79,186.15 360.11,186.15 359.43,186.15 358.74,186.15 358.06,186.14 357.38,186.14 356.70,186.14 356.01,186.13 355.33,186.12 354.65,186.11 353.97,186.10 353.28,186.09 352.60,186.07 351.92,186.06 351.24,186.05 350.55,186.04 349.87,186.03 349.19,186.01 348.51,186.00 347.82,185.99 347.14,185.98 346.46,185.97 345.78,185.96 345.09,185.94 344.41,185.93 343.73,185.92 343.05,185.91 342.36,185.90 341.68,185.88 341.00,185.87 340.32,185.86 339.63,185.85 338.95,185.84 338.27,185.83 337.59,185.81 336.90,185.80 336.22,185.75 335.54,185.71 334.86,185.67 334.17,185.63 333.49,185.59 332.81,185.55 332.13,185.51 331.44,185.47 330.76,185.42 330.08,185.38 329.40,185.34 328.71,185.28 328.03,185.16 327.35,185.04 326.67,184.91 325.98,184.79 325.30,184.66 324.62,184.54 323.94,184.42 323.25,184.31 322.57,184.27 321.89,184.23 321.21,184.19 320.52,184.14 319.84,184.10 319.16,184.06 318.48,184.02 317.79,183.95 317.11,183.79 316.43,183.62 315.75,183.46 315.06,183.29 Z" fill="url(#hatch)" stroke="#111" stroke-width="0.85"/>
<path d="M318.13,186.30 318.13,186.30 318.27,185.80 318.41,184.96 318.55,183.91 318.69,182.70 318.82,181.35 318.96,179.88 319.10,178.30 319.24,176.61 319.37,174.84 319.51,172.98 319.65,171.03 319.79,169.01 319.93,166.92 320.06,164.75 320.20,162.52 320.34,160.23 320.48,157.87 320.61,155.45 320.75,152.97 320.89,150.44 321.03,147.85 321.17,145.21 321.30,142.51 321.44,139.77 321.58,136.97 321.72,134.13 321.85,131.24 321.99,128.30 322.13,125.32 322.27,122.30 322.40,119.23 322.54,116.11 322.68,112.96 322.82,109.76 322.96,106.53 323.09,103.25 323.23,99.94 323.37,96.58 323.51,93.19 323.64,89.76 323.78,86.30 323.92,82.79 324.06,79.26 324.20,75.68 324.33,72.07 324.47,68.43 324.61,64.75 324.75,61.04 324.88,57.30 325.02,53.52 325.16,49.71 325.30,45.87 325.44,41.99 325.57,38.09 325.71,34.15 325.85,38.09 325.99,41.99 326.12,45.87 326.26,49.71 326.40,53.52 326.54,57.30 326.67,61.04 326.81,64.75 326.95,68.43 327.09,72.07 327.23,75.68 327.36,79.26 327.50,82.79 327.64,86.30 327.78,89.76 327.91,93.19 328.05,96.58 328.19,99.94 328.33,103.25 328.47,106.53 328.60,109.76 328.74,112.96 328.88,116.11 329.02,119.23 329.15,122.30 329.29,125.32 329.43,128.30 329.57,131.24 329.70,134.13 329.84,136.97 329.98,139.77 330.12,142.51 330.26,145.21 330.39,147.85 330.53,150.44 330.67,152.97 330.81,155.45 330.94,157.87 331.08,160.23 331.22,162.52 331.36,164.75 331.50,166.92 331.63,169.01 331.77,171.03 331.91,172.98 332.05,174.84 332.18,176.61 332.32,178.30 332.46,179.88 332.60,181.35 332.74,182.70 332.87,183.91 333.01,184.96 333.15,185.80 333.29,186.30 333.29,186.30 Z" fill="#f2290a" stroke="#1a0000" stroke-width="1.45" stroke-linejoin="round"/>
<path d="M376.90,186.30 376.90,186.30 377.03,186.07 377.17,185.84 377.31,185.61 377.44,185.39 377.58,185.16 377.72,184.93 377.85,184.70 377.99,184.47 378.13,184.24 378.26,184.01 378.40,183.79 378.54,183.56 378.67,183.33 378.81,183.10 378.95,182.87 379.08,182.64 379.22,182.42 379.36,182.19 379.49,181.96 379.63,181.73 379.76,181.50 379.90,181.27 380.04,181.04 380.17,180.82 380.31,180.59 380.45,180.36 380.58,180.13 380.72,179.90 380.86,179.67 380.99,179.44 381.13,179.22 381.27,178.99 381.40,178.76 381.54,178.53 381.68,178.30 381.81,178.07 381.95,177.84 382.09,177.62 382.22,177.39 382.36,177.16 382.49,176.93 382.63,176.70 382.77,176.47 382.90,176.24 383.04,176.02 383.18,175.79 383.31,175.56 383.45,175.33 383.59,175.10 383.72,174.87 383.86,174.65 384.00,174.42 384.13,174.19 384.27,173.96 384.41,173.73 384.54,173.50 384.68,173.27 384.82,173.05 384.95,172.82 385.09,172.59 385.22,172.82 385.36,173.05 385.50,173.27 385.63,173.50 385.77,173.73 385.91,173.96 386.04,174.19 386.18,174.42 386.32,174.65 386.45,174.87 386.59,175.10 386.73,175.33 386.86,175.56 387.00,175.79 387.14,176.02 387.27,176.24 387.41,176.47 387.55,176.70 387.68,176.93 387.82,177.16 387.95,177.39 388.09,177.62 388.23,177.84 388.36,178.07 388.50,178.30 388.64,178.53 388.77,178.76 388.91,178.99 389.05,179.22 389.18,179.44 389.32,179.67 389.46,179.90 389.59,180.13 389.73,180.36 389.87,180.59 390.00,180.82 390.14,181.04 390.28,181.27 390.41,181.50 390.55,181.73 390.68,181.96 390.82,182.19 390.96,182.42 391.09,182.64 391.23,182.87 391.37,183.10 391.50,183.33 391.64,183.56 391.78,183.79 391.91,184.01 392.05,184.24 392.19,184.47 392.32,184.70 392.46,184.93 392.60,185.16 392.73,185.39 392.87,185.61 393.00,185.84 393.14,186.07 393.28,186.30 393.28,186.30 Z" fill="#f2290a" stroke="#3a0505" stroke-width="0.9" stroke-linejoin="round"/>
<clipPath id="rc2"><path d="M318.13,186.30 318.13,186.30 318.27,185.80 318.41,184.96 318.55,183.91 318.69,182.70 318.82,181.35 318.96,179.88 319.10,178.30 319.24,176.61 319.37,174.84 319.51,172.98 319.65,171.03 319.79,169.01 319.93,166.92 320.06,164.75 320.20,162.52 320.34,160.23 320.48,157.87 320.61,155.45 320.75,152.97 320.89,150.44 321.03,147.85 321.17,145.21 321.30,142.51 321.44,139.77 321.58,136.97 321.72,134.13 321.85,131.24 321.99,128.30 322.13,125.32 322.27,122.30 322.40,119.23 322.54,116.11 322.68,112.96 322.82,109.76 322.96,106.53 323.09,103.25 323.23,99.94 323.37,96.58 323.51,93.19 323.64,89.76 323.78,86.30 323.92,82.79 324.06,79.26 324.20,75.68 324.33,72.07 324.47,68.43 324.61,64.75 324.75,61.04 324.88,57.30 325.02,53.52 325.16,49.71 325.30,45.87 325.44,41.99 325.57,38.09 325.71,34.15 325.85,38.09 325.99,41.99 326.12,45.87 326.26,49.71 326.40,53.52 326.54,57.30 326.67,61.04 326.81,64.75 326.95,68.43 327.09,72.07 327.23,75.68 327.36,79.26 327.50,82.79 327.64,86.30 327.78,89.76 327.91,93.19 328.05,96.58 328.19,99.94 328.33,103.25 328.47,106.53 328.60,109.76 328.74,112.96 328.88,116.11 329.02,119.23 329.15,122.30 329.29,125.32 329.43,128.30 329.57,131.24 329.70,134.13 329.84,136.97 329.98,139.77 330.12,142.51 330.26,145.21 330.39,147.85 330.53,150.44 330.67,152.97 330.81,155.45 330.94,157.87 331.08,160.23 331.22,162.52 331.36,164.75 331.50,166.92 331.63,169.01 331.77,171.03 331.91,172.98 332.05,174.84 332.18,176.61 332.32,178.30 332.46,179.88 332.60,181.35 332.74,182.70 332.87,183.91 333.01,184.96 333.15,185.80 333.29,186.30 333.29,186.30 Z M376.90,186.30 376.90,186.30 377.03,186.07 377.17,185.84 377.31,185.61 377.44,185.39 377.58,185.16 377.72,184.93 377.85,184.70 377.99,184.47 378.13,184.24 378.26,184.01 378.40,183.79 378.54,183.56 378.67,183.33 378.81,183.10 378.95,182.87 379.08,182.64 379.22,182.42 379.36,182.19 379.49,181.96 379.63,181.73 379.76,181.50 379.90,181.27 380.04,181.04 380.17,180.82 380.31,180.59 380.45,180.36 380.58,180.13 380.72,179.90 380.86,179.67 380.99,179.44 381.13,179.22 381.27,178.99 381.40,178.76 381.54,178.53 381.68,178.30 381.81,178.07 381.95,177.84 382.09,177.62 382.22,177.39 382.36,177.16 382.49,176.93 382.63,176.70 382.77,176.47 382.90,176.24 383.04,176.02 383.18,175.79 383.31,175.56 383.45,175.33 383.59,175.10 383.72,174.87 383.86,174.65 384.00,174.42 384.13,174.19 384.27,173.96 384.41,173.73 384.54,173.50 384.68,173.27 384.82,173.05 384.95,172.82 385.09,172.59 385.22,172.82 385.36,173.05 385.50,173.27 385.63,173.50 385.77,173.73 385.91,173.96 386.04,174.19 386.18,174.42 386.32,174.65 386.45,174.87 386.59,175.10 386.73,175.33 386.86,175.56 387.00,175.79 387.14,176.02 387.27,176.24 387.41,176.47 387.55,176.70 387.68,176.93 387.82,177.16 387.95,177.39 388.09,177.62 388.23,177.84 388.36,178.07 388.50,178.30 388.64,178.53 388.77,178.76 388.91,178.99 389.05,179.22 389.18,179.44 389.32,179.67 389.46,179.90 389.59,180.13 389.73,180.36 389.87,180.59 390.00,180.82 390.14,181.04 390.28,181.27 390.41,181.50 390.55,181.73 390.68,181.96 390.82,182.19 390.96,182.42 391.09,182.64 391.23,182.87 391.37,183.10 391.50,183.33 391.64,183.56 391.78,183.79 391.91,184.01 392.05,184.24 392.19,184.47 392.32,184.70 392.46,184.93 392.60,185.16 392.73,185.39 392.87,185.61 393.00,185.84 393.14,186.07 393.28,186.30 393.28,186.30 Z"/></clipPath>
<path d="M315.06,183.28 315.75,183.43 316.43,183.58 317.11,183.72 317.79,183.85 318.48,183.85 319.16,183.81 319.84,183.74 320.52,183.62 321.21,183.46 321.89,183.25 322.57,182.98 323.25,182.66 323.94,182.35 324.62,182.02 325.30,181.65 325.98,181.26 326.67,180.87 327.35,180.49 328.03,180.13 328.71,179.82 329.40,179.50 330.08,179.21 330.76,178.97 331.44,178.79 332.13,178.66 332.81,178.57 333.49,178.52 334.17,178.49 334.86,178.48 335.54,178.49 336.22,178.52 336.90,178.54 337.59,178.55 338.27,178.56 338.95,178.57 339.63,178.58 340.32,178.59 341.00,178.60 341.68,178.62 342.36,178.63 343.05,178.64 343.73,178.65 344.41,178.66 345.09,178.67 345.78,178.69 346.46,178.70 347.14,178.71 347.82,178.72 348.51,178.73 349.19,178.75 349.87,178.76 350.55,178.77 351.24,178.78 351.92,178.79 352.60,178.80 353.28,178.82 353.97,178.83 354.65,178.84 355.33,178.85 356.01,178.86 356.70,178.87 357.38,178.87 358.06,178.87 358.74,178.88 359.43,178.88 360.11,178.88 360.79,178.88 361.47,178.89 362.16,178.89 362.84,178.89 363.52,178.90 364.20,178.90 364.89,178.90 365.57,178.90 366.25,178.91 366.93,178.91 367.62,178.91 368.30,178.92 368.98,178.92 369.66,178.92 370.35,178.92 371.03,178.93 371.71,178.93 372.39,178.94 373.08,178.95 373.76,179.01 374.44,179.20 375.12,179.65 375.81,180.49 376.49,181.73 377.17,183.16 377.85,184.46 378.54,185.39 379.22,185.90 379.90,186.13 380.58,186.21 L380.58,186.23 379.90,186.23 379.22,186.23 378.54,186.23 377.85,186.22 377.17,186.22 376.49,186.22 375.81,186.21 375.12,186.21 374.44,186.21 373.76,186.21 373.08,186.20 372.39,186.20 371.71,186.20 371.03,186.19 370.35,186.19 369.66,186.19 368.98,186.19 368.30,186.18 367.62,186.18 366.93,186.18 366.25,186.18 365.57,186.17 364.89,186.17 364.20,186.17 363.52,186.16 362.84,186.16 362.16,186.16 361.47,186.16 360.79,186.15 360.11,186.15 359.43,186.15 358.74,186.15 358.06,186.14 357.38,186.14 356.70,186.14 356.01,186.13 355.33,186.12 354.65,186.11 353.97,186.10 353.28,186.09 352.60,186.07 351.92,186.06 351.24,186.05 350.55,186.04 349.87,186.03 349.19,186.01 348.51,186.00 347.82,185.99 347.14,185.98 346.46,185.97 345.78,185.96 345.09,185.94 344.41,185.93 343.73,185.92 343.05,185.91 342.36,185.90 341.68,185.88 341.00,185.87 340.32,185.86 339.63,185.85 338.95,185.84 338.27,185.83 337.59,185.81 336.90,185.80 336.22,185.75 335.54,185.71 334.86,185.67 334.17,185.63 333.49,185.59 332.81,185.55 332.13,185.51 331.44,185.47 330.76,185.42 330.08,185.38 329.40,185.34 328.71,185.28 328.03,185.16 327.35,185.04 326.67,184.91 325.98,184.79 325.30,184.66 324.62,184.54 323.94,184.42 323.25,184.31 322.57,184.27 321.89,184.23 321.21,184.19 320.52,184.14 319.84,184.10 319.16,184.06 318.48,184.02 317.79,183.95 317.11,183.79 316.43,183.62 315.75,183.46 315.06,183.29 Z" fill="url(#hatch2)" stroke="none" clip-path="url(#rc2)"/>
<path d="M318.13,186.30 L318.13,186.30 318.27,185.81 318.41,184.98 318.54,184.02 318.68,184.03 318.82,184.04 318.95,184.05 319.09,184.06 319.23,184.07 319.36,184.07 319.50,184.08 319.64,184.09 319.77,184.10 319.91,184.11 320.05,184.12 320.18,184.12 320.32,184.13 320.46,184.14 320.59,184.15 320.73,184.16 320.86,184.16 321.00,184.17 321.14,184.18 321.27,184.19 321.41,184.20 321.55,184.21 321.68,184.21 321.82,184.22 321.96,184.23 322.09,184.24 322.23,184.25 322.37,184.26 322.50,184.26 322.64,184.27 322.78,184.28 322.91,184.29 323.05,184.30 323.19,184.31 323.32,184.31 323.46,184.33 323.59,184.35 323.73,184.38 323.87,184.40 324.00,184.43 324.14,184.45 324.28,184.48 324.41,184.50 324.55,184.53 324.69,184.55 324.82,184.58 324.96,184.60 325.10,184.63 325.23,184.65 325.37,184.68 325.51,184.70 325.64,184.73 325.78,184.75 325.92,184.78 326.05,184.80 326.19,184.83 326.32,184.85 326.46,184.88 326.60,184.90 326.73,184.92 326.87,184.95 327.01,184.97 327.14,185.00 327.28,185.02 327.42,185.05 327.55,185.07 327.69,185.10 327.83,185.12 327.96,185.15 328.10,185.17 328.24,185.20 328.37,185.22 328.51,185.25 328.65,185.27 328.78,185.30 328.92,185.31 329.05,185.32 329.19,185.33 329.33,185.34 329.46,185.35 329.60,185.35 329.74,185.36 329.87,185.37 330.01,185.38 330.15,185.39 330.28,185.40 330.42,185.40 330.56,185.41 330.69,185.42 330.83,185.43 330.97,185.44 331.10,185.45 331.24,185.45 331.38,185.46 331.51,185.47 331.65,185.48 331.78,185.49 331.92,185.49 332.06,185.50 332.19,185.51 332.33,185.52 332.47,185.53 332.60,185.54 332.74,185.54 332.88,185.55 333.01,185.56 333.15,185.81 333.29,186.30 L333.29,186.30 Z" fill="#dcd0f0" fill-opacity="0.45" stroke="none"/>
<polyline points="318.68,183.85 318.82,183.84 318.95,183.83 319.09,183.82 319.23,183.81 319.36,183.79 319.50,183.78 319.64,183.76 319.77,183.75 319.91,183.73 320.05,183.71 320.18,183.69 320.32,183.66 320.46,183.64 320.59,183.61 320.73,183.58 320.86,183.55 321.00,183.52 321.14,183.48 321.27,183.45 321.41,183.41 321.55,183.36 321.68,183.32 321.82,183.28 321.96,183.23 322.09,183.18 322.23,183.13 322.37,183.07 322.50,183.01 322.64,182.95 322.78,182.89 322.91,182.83 323.05,182.76 323.19,182.70 323.32,182.63 323.46,182.56 323.59,182.51 323.73,182.45 323.87,182.38 324.00,182.32 324.14,182.26 324.28,182.19 324.41,182.12 324.55,182.05 324.69,181.98 324.82,181.91 324.96,181.84 325.10,181.76 325.23,181.68 325.37,181.61 325.51,181.53 325.64,181.45 325.78,181.38 325.92,181.30 326.05,181.22 326.19,181.14 326.32,181.06 326.46,180.98 326.60,180.90 326.73,180.83 326.87,180.75 327.01,180.67 327.14,180.60 327.28,180.52 327.42,180.45 327.55,180.38 327.69,180.31 327.83,180.24 327.96,180.17 328.10,180.10 328.24,180.04 328.37,179.97 328.51,179.91 328.65,179.85 328.78,179.79 328.92,179.73 329.05,179.66 329.19,179.59 329.33,179.53 329.46,179.46 329.60,179.40 329.74,179.34 329.87,179.29 330.01,179.23 330.15,179.18 330.28,179.13 330.42,179.08 330.56,179.04 330.69,178.99 330.83,178.95 330.97,178.91 331.10,178.88 331.24,178.84 331.38,178.81 331.51,178.78 331.65,178.75 331.78,178.72 331.92,178.69 332.06,178.67 332.19,178.65 332.33,178.63" fill="none" stroke="#5a0000" stroke-width="0.6"/>
<polyline points="284.35,186.30 285.72,181.49 287.08,180.54 288.45,180.09 289.81,179.84 291.18,179.16 292.54,177.84 293.91,178.90 295.27,179.15 296.64,179.28 298.00,179.41 299.37,179.52 300.73,179.63 302.10,179.78 303.46,180.00 304.83,180.22 306.19,180.48 307.56,180.82 308.92,181.15 310.29,181.56 311.65,182.11 313.02,182.66 314.38,183.12 315.75,183.43 317.11,183.72 318.20,183.68 318.34,182.99 318.48,182.04 318.48,182.04 318.61,180.91 318.75,179.64 318.89,178.23 319.02,176.72 319.16,175.09 319.30,173.37 319.43,171.56 319.57,169.67 319.70,167.70 319.84,165.65 319.84,165.65 319.98,163.53 320.11,161.34 320.25,159.08 320.39,156.75 320.52,154.37 320.66,151.92 320.80,149.42 320.93,146.86 321.07,144.24 321.21,141.57 321.21,141.57 321.34,138.85 321.48,136.08 321.62,133.25 321.75,130.38 321.89,127.45 322.03,124.48 322.16,121.47 322.30,118.41 322.43,115.30 322.57,112.15 322.57,112.15 322.71,108.95 322.84,105.72 322.98,102.44 323.12,99.12 323.25,95.76 323.39,92.36 323.53,88.93 323.66,85.47 323.80,81.97 323.94,78.43 323.94,78.43 324.07,74.86 324.21,71.25 324.35,67.60 324.48,63.92 324.62,60.20 324.75,56.45 324.89,52.66 325.03,48.84 325.16,44.99 325.30,41.11 325.30,41.11 325.44,37.19 325.57,33.24 325.71,29.26 325.85,33.08 325.98,36.87 326.12,40.63 326.26,44.36 326.39,48.05 326.53,51.71 326.67,55.34 326.67,55.34 326.80,58.94 326.94,62.50 327.08,66.03 327.21,69.52 327.35,72.98 327.49,76.40 327.62,79.79 327.76,83.14 327.89,86.45 328.03,89.72 328.03,89.72 328.17,92.95 328.30,96.14 328.44,99.30 328.58,102.40 328.71,105.47 328.85,108.49 328.99,111.45 329.12,114.36 329.26,117.23 329.40,120.05 329.40,120.05 329.53,122.82 329.67,125.53 329.81,128.20 329.94,130.82 330.08,133.38 330.22,135.89 330.35,138.35 330.49,140.75 330.62,143.09 330.76,145.38 330.76,145.38 330.90,147.61 331.03,149.78 331.17,151.90 331.31,153.95 331.44,155.94 331.58,157.87 331.72,159.74 331.85,161.54 331.99,163.26 332.13,164.92 332.13,164.92 332.26,166.50 332.40,167.99 332.54,169.39 332.67,170.70 332.81,171.89 332.95,172.94 333.08,173.83 333.22,174.49 333.49,174.65 334.86,175.20 336.22,176.13 337.59,176.69 338.95,176.88 340.32,176.94 341.68,176.96 343.05,176.99 344.41,177.01 345.78,177.03 347.14,177.06 348.51,177.08 349.87,177.11 351.24,177.13 352.60,177.15 353.97,177.18 355.33,177.20 356.70,177.22 358.06,177.22 359.43,177.23 360.79,177.23 362.16,177.24 363.52,177.24 364.89,177.25 366.25,177.25 367.62,177.26 368.98,177.26 370.35,177.25 371.71,177.23 373.08,177.20 374.44,177.33 375.81,178.42 377.17,180.33 378.54,179.82 379.90,177.68 381.27,174.73 382.63,171.56 384.00,168.38 385.09,165.97 385.36,166.32 386.73,168.33 388.09,170.86 389.46,173.88 390.82,177.24 392.19,180.72 393.55,183.68 394.92,184.62 396.28,185.30 397.65,185.76" fill="none" stroke="#1a1a1a" stroke-width="0.7" stroke-linejoin="round"/>
<polyline points="284.35,184.75 285.72,182.01 287.08,180.22 288.45,179.97 289.81,179.14 291.18,180.36 292.54,178.21 293.91,179.54 295.27,180.07 296.64,180.00 298.00,179.84 299.37,179.76 300.73,180.39 302.10,179.43 303.46,180.45 304.83,182.85 306.19,179.51 307.56,181.13 308.92,181.74 310.29,181.35 311.65,181.94 313.02,182.62 314.38,183.76 315.75,183.29 317.11,184.84 318.20,183.06 318.34,182.13 318.48,180.92 318.48,180.92 318.61,179.97 318.75,178.88 318.89,177.68 319.02,176.39 319.16,175.01 319.30,173.56 319.43,172.04 319.57,170.47 319.70,168.85 319.84,167.18 319.84,167.18 319.98,165.00 320.11,162.73 320.25,160.33 320.39,157.87 320.52,155.34 320.66,152.76 320.80,150.11 320.93,147.41 321.07,144.66 321.21,141.85 321.21,141.85 321.34,139.09 321.48,136.29 321.62,133.44 321.75,130.53 321.89,127.58 322.03,124.58 322.16,121.53 322.30,118.44 322.43,115.30 322.57,112.12 322.57,112.12 322.71,108.90 322.84,105.64 322.98,102.33 323.12,98.99 323.25,95.60 323.39,92.17 323.53,88.72 323.66,85.24 323.80,81.71 323.94,78.15 323.94,78.15 324.07,74.63 324.21,71.08 324.35,67.50 324.48,63.88 324.62,60.22 324.75,56.53 324.89,52.80 325.03,49.05 325.16,45.26 325.30,41.43 325.30,41.43 325.44,37.42 325.57,33.37 325.71,29.30 325.85,33.02 325.98,36.71 326.12,40.38 326.26,44.01 326.39,47.60 326.53,51.17 326.67,54.70 326.67,54.70 326.80,58.84 326.94,62.95 327.08,67.02 327.21,71.06 327.35,75.06 327.49,79.03 327.62,82.96 327.76,86.85 327.89,90.71 328.03,94.52 328.03,94.52 328.17,97.31 328.30,100.05 328.44,102.75 328.58,105.41 328.71,108.03 328.85,110.60 328.99,113.11 329.12,115.57 329.26,117.99 329.40,120.36 329.40,120.36 329.53,123.13 329.67,125.86 329.81,128.53 329.94,131.16 330.08,133.73 330.22,136.24 330.35,138.70 330.49,141.11 330.62,143.46 330.76,145.75 330.76,145.75 330.90,148.02 331.03,150.22 331.17,152.36 331.31,154.43 331.44,156.44 331.58,158.39 331.72,160.26 331.85,162.05 331.99,163.74 332.13,165.35 332.13,165.35 332.26,166.59 332.40,167.76 332.54,168.84 332.67,169.81 332.81,170.67 332.95,171.39 333.08,171.95 333.22,172.27 333.49,171.73 334.86,174.56 336.22,175.90 337.59,178.66 338.95,176.75 340.32,178.54 341.68,178.52 343.05,174.95 344.41,176.49 345.78,177.16 347.14,177.02 348.51,178.52 349.87,178.19 351.24,176.86 352.60,179.21 353.97,177.05 355.33,178.90 356.70,177.23 358.06,178.36 359.43,175.74 360.79,176.42 362.16,177.83 363.52,179.09 364.89,178.09 366.25,177.42 367.62,178.29 368.98,177.12 370.35,176.47 371.71,177.40 373.08,177.71 374.44,176.73 375.81,178.79 377.17,179.73 378.54,180.20 379.90,176.34 381.27,175.13 382.63,172.80 384.00,168.26 385.09,166.29 385.36,166.70 386.73,168.15 388.09,168.38 389.46,169.28 390.82,175.56 392.19,177.83 393.55,182.20 394.92,184.12 396.28,184.62 397.65,186.30" fill="none" stroke="#555" stroke-width="0.7" stroke-linejoin="round"/>
<g stroke="#141414" stroke-width="0.9"><line x1="260.60" y1="21.10" x2="260.60" y2="191.80"/><line x1="255.10" y1="186.30" x2="465.75" y2="186.30"/><line x1="258.10" y1="179.69" x2="260.60" y2="179.69"/><line x1="258.10" y1="173.08" x2="260.60" y2="173.08"/><line x1="258.10" y1="166.48" x2="260.60" y2="166.48"/><line x1="258.10" y1="159.87" x2="260.60" y2="159.87"/><line x1="255.10" y1="153.26" x2="260.60" y2="153.26"/><line x1="258.10" y1="146.65" x2="260.60" y2="146.65"/><line x1="258.10" y1="140.04" x2="260.60" y2="140.04"/><line x1="258.10" y1="133.44" x2="260.60" y2="133.44"/><line x1="258.10" y1="126.83" x2="260.60" y2="126.83"/><line x1="255.10" y1="120.22" x2="260.60" y2="120.22"/><line x1="258.10" y1="113.61" x2="260.60" y2="113.61"/><line x1="258.10" y1="107.00" x2="260.60" y2="107.00"/><line x1="258.10" y1="100.40" x2="260.60" y2="100.40"/><line x1="258.10" y1="93.79" x2="260.60" y2="93.79"/><line x1="255.10" y1="87.18" x2="260.60" y2="87.18"/><line x1="258.10" y1="80.57" x2="260.60" y2="80.57"/><line x1="258.10" y1="73.96" x2="260.60" y2="73.96"/><line x1="258.10" y1="67.36" x2="260.60" y2="67.36"/><line x1="258.10" y1="60.75" x2="260.60" y2="60.75"/><line x1="255.10" y1="54.14" x2="260.60" y2="54.14"/><line x1="258.10" y1="47.53" x2="260.60" y2="47.53"/><line x1="258.10" y1="40.92" x2="260.60" y2="40.92"/><line x1="258.10" y1="34.32" x2="260.60" y2="34.32"/><line x1="258.10" y1="27.71" x2="260.60" y2="27.71"/><line x1="268.79" y1="186.30" x2="268.79" y2="188.80"/><line x1="276.98" y1="186.30" x2="276.98" y2="188.80"/><line x1="285.17" y1="186.30" x2="285.17" y2="188.80"/><line x1="293.36" y1="186.30" x2="293.36" y2="188.80"/><line x1="301.55" y1="186.30" x2="301.55" y2="191.80"/><line x1="309.74" y1="186.30" x2="309.74" y2="188.80"/><line x1="317.93" y1="186.30" x2="317.93" y2="188.80"/><line x1="326.12" y1="186.30" x2="326.12" y2="188.80"/><line x1="334.31" y1="186.30" x2="334.31" y2="188.80"/><line x1="342.50" y1="186.30" x2="342.50" y2="191.80"/><line x1="350.69" y1="186.30" x2="350.69" y2="188.80"/><line x1="358.88" y1="186.30" x2="358.88" y2="188.80"/><line x1="367.07" y1="186.30" x2="367.07" y2="188.80"/><line x1="375.26" y1="186.30" x2="375.26" y2="188.80"/><line x1="383.45" y1="186.30" x2="383.45" y2="191.80"/><line x1="391.64" y1="186.30" x2="391.64" y2="188.80"/><line x1="399.83" y1="186.30" x2="399.83" y2="188.80"/><line x1="408.02" y1="186.30" x2="408.02" y2="188.80"/><line x1="416.21" y1="186.30" x2="416.21" y2="188.80"/><line x1="424.40" y1="186.30" x2="424.40" y2="191.80"/><line x1="432.59" y1="186.30" x2="432.59" y2="188.80"/><line x1="440.78" y1="186.30" x2="440.78" y2="188.80"/><line x1="448.97" y1="186.30" x2="448.97" y2="188.80"/><line x1="457.16" y1="186.30" x2="457.16" y2="188.80"/><line x1="465.35" y1="186.30" x2="465.35" y2="191.80"/></g>
<g font-family="Liberation Sans, sans-serif" font-size="6" fill="#3a3a3a" stroke="#3a3a3a" stroke-width="0.12"><text transform="translate(250.60,186.30) rotate(-90)" text-anchor="middle">0</text><text transform="translate(250.60,153.26) rotate(-90)" text-anchor="middle">200</text><text transform="translate(250.60,120.22) rotate(-90)" text-anchor="middle">400</text><text transform="translate(250.60,87.18) rotate(-90)" text-anchor="middle">600</text><text transform="translate(250.60,54.14) rotate(-90)" text-anchor="middle">800</text><text x="260.60" y="199.30" text-anchor="middle">0</text><text x="301.55" y="199.30" text-anchor="middle">30</text><text x="342.50" y="199.30" text-anchor="middle">60</text><text x="383.45" y="199.30" text-anchor="middle">90</text><text x="424.40" y="199.30" text-anchor="middle">120</text><text x="465.35" y="199.30" text-anchor="middle">150</text></g>
<text x="362.98" y="206.00" text-anchor="middle" font-family="Liberation Sans, sans-serif" font-size="7" fill="#404040">Channels (FL2-A)</text>
<text transform="translate(244.80,103.70) rotate(-90)" text-anchor="middle" font-family="Liberation Sans, sans-serif" font-size="6.7" fill="#404040">Number</text>
<path d="M325.44,187.60 L322.74,192.50 L328.14,192.50 Z" fill="#000"/>
<path d="M387.00,187.60 L384.30,192.50 L389.70,192.50 Z" fill="#000"/>
<text x="413.40" y="45.00" font-family="Liberation Serif, serif" font-size="8.8"  textLength="30.7" lengthAdjust="spacingAndGlyphs" fill="#222" stroke="#222" stroke-width="0.08">8.15 µM</text>
<path d="M50.05,374.50 L50.05,374.50 50.73,372.85 51.42,372.08 52.10,371.53 52.78,370.98 53.46,370.98 54.15,371.11 54.83,371.24 55.51,371.37 56.19,371.50 56.88,371.60 57.56,371.68 58.24,371.76 58.92,371.84 59.61,371.93 60.29,372.01 60.97,372.09 61.65,372.17 62.34,372.22 63.02,372.26 63.70,372.31 64.38,372.35 65.07,372.39 65.75,372.43 66.43,372.47 67.11,372.51 67.80,372.52 68.48,372.52 69.16,372.52 69.84,372.52 70.53,372.52 71.21,372.52 71.89,372.52 72.57,372.52 73.26,372.50 73.94,372.48 74.62,372.46 75.30,372.44 75.99,372.42 76.67,372.40 77.35,372.38 78.03,372.36 78.72,372.34 79.40,372.32 80.08,372.30 80.76,372.28 81.45,372.26 82.13,372.24 82.81,372.21 83.49,372.19 84.18,372.26 84.86,372.34 85.54,372.42 86.22,372.50 86.91,372.59 87.59,372.67 88.27,372.75 88.95,372.83 89.64,372.92 90.32,373.00 91.00,373.08 91.68,373.16 92.37,373.25 93.05,373.33 93.73,373.41 94.41,373.49 95.10,373.54 95.78,373.58 96.46,373.63 97.14,373.67 97.83,373.71 98.51,373.75 99.19,373.79 99.87,373.83 100.56,373.87 101.24,373.91 101.92,373.96 102.60,374.00 103.29,374.01 103.97,374.03 104.65,374.04 105.33,374.05 106.02,374.06 106.70,374.07 107.38,374.09 108.06,374.10 108.75,374.11 109.43,374.12 110.11,374.13 110.79,374.14 111.48,374.16 112.16,374.17 112.84,374.18 113.52,374.19 114.21,374.20 114.89,374.21 115.57,374.23 116.25,374.24 116.94,374.25 117.62,374.26 118.30,374.27 118.98,374.29 119.67,374.30 120.35,374.31 121.03,374.32 121.71,374.33 122.40,374.34 123.08,374.34 123.76,374.34 124.44,374.35 125.13,374.35 125.81,374.35 126.49,374.35 127.17,374.36 127.86,374.36 128.54,374.36 129.22,374.36 129.90,374.37 130.59,374.37 131.27,374.37 131.95,374.38 132.63,374.38 133.32,374.38 134.00,374.38 134.68,374.39 135.36,374.39 136.05,374.39 136.73,374.39 137.41,374.40 138.09,374.40 138.78,374.40 139.46,374.41 140.14,374.41 140.82,374.41 141.51,374.41 142.19,374.42 142.87,374.42 143.55,374.42 144.24,374.43 144.92,374.43 145.60,374.43 146.28,374.43 146.97,374.44 147.65,374.44 148.33,374.44 149.01,374.44 149.70,374.45 150.38,374.45 151.06,374.45 151.74,374.46 152.43,374.46 153.11,374.46 153.79,374.46 154.47,374.47 155.16,374.47 155.84,374.47 156.52,374.47 157.20,374.48 157.89,374.48 158.57,374.48 159.25,374.49 159.93,374.49 160.62,374.49 161.30,374.49 161.98,374.50 162.66,374.50 163.35,374.50 164.03,374.50 164.71,374.50 165.39,374.50 166.08,374.50 166.76,374.50 L166.76,374.50 Z" fill="#cdcdf5" stroke="#14143a" stroke-width="0.95"/>
<path d="M80.08,372.28 80.76,372.26 81.45,372.22 82.13,372.18 82.81,372.13 83.49,372.07 84.18,372.07 84.86,372.07 85.54,372.04 86.22,371.98 86.91,371.88 87.59,371.73 88.27,371.53 88.95,371.27 89.64,370.96 90.32,370.59 91.00,370.18 91.68,369.73 92.37,369.24 93.05,368.74 93.73,368.24 94.41,367.75 95.10,367.25 95.78,366.78 96.46,366.35 97.14,365.98 97.83,365.66 98.51,365.39 99.19,365.18 99.87,365.02 100.56,364.90 101.24,364.82 101.92,364.76 102.60,364.74 103.29,364.71 103.97,364.68 104.65,364.67 105.33,364.67 106.02,364.67 106.70,364.68 107.38,364.69 108.06,364.70 108.75,364.71 109.43,364.72 110.11,364.73 110.79,364.74 111.48,364.75 112.16,364.76 112.84,364.77 113.52,364.79 114.21,364.80 114.89,364.81 115.57,364.82 116.25,364.83 116.94,364.85 117.62,364.86 118.30,364.87 118.98,364.88 119.67,364.89 120.35,364.90 121.03,364.92 121.71,364.93 122.40,364.93 123.08,364.93 123.76,364.94 124.44,364.94 125.13,364.94 125.81,364.95 126.49,364.95 127.17,364.95 127.86,364.95 128.54,364.96 129.22,364.96 129.90,364.96 130.59,364.97 131.27,364.97 131.95,364.97 132.63,364.97 133.32,364.98 134.00,364.98 134.68,364.98 135.36,364.98 136.05,364.99 136.73,364.99 137.41,364.99 138.09,365.00 138.78,365.00 139.46,365.00 140.14,365.00 140.82,365.01 141.51,365.01 142.19,365.02 142.87,365.03 143.55,365.04 144.24,365.07 144.92,365.12 145.60,365.20 146.28,365.32 146.97,365.51 147.65,365.78 148.33,366.15 149.01,366.64 149.70,367.24 150.38,367.95 151.06,368.74 151.74,369.58 152.43,370.43 153.11,371.25 153.79,372.00 154.47,372.64 155.16,373.17 155.84,373.59 156.52,373.90 157.20,374.12 157.89,374.27 158.57,374.36 159.25,374.42 159.93,374.45 160.62,374.47 L160.62,374.49 159.93,374.49 159.25,374.49 158.57,374.48 157.89,374.48 157.20,374.48 156.52,374.47 155.84,374.47 155.16,374.47 154.47,374.47 153.79,374.46 153.11,374.46 152.43,374.46 151.74,374.46 151.06,374.45 150.38,374.45 149.70,374.45 149.01,374.44 148.33,374.44 147.65,374.44 146.97,374.44 146.28,374.43 145.60,374.43 144.92,374.43 144.24,374.43 143.55,374.42 142.87,374.42 142.19,374.42 141.51,374.41 140.82,374.41 140.14,374.41 139.46,374.41 138.78,374.40 138.09,374.40 137.41,374.40 136.73,374.39 136.05,374.39 135.36,374.39 134.68,374.39 134.00,374.38 133.32,374.38 132.63,374.38 131.95,374.38 131.27,374.37 130.59,374.37 129.90,374.37 129.22,374.36 128.54,374.36 127.86,374.36 127.17,374.36 126.49,374.35 125.81,374.35 125.13,374.35 124.44,374.35 123.76,374.34 123.08,374.34 122.40,374.34 121.71,374.33 121.03,374.32 120.35,374.31 119.67,374.30 118.98,374.29 118.30,374.27 117.62,374.26 116.94,374.25 116.25,374.24 115.57,374.23 114.89,374.21 114.21,374.20 113.52,374.19 112.84,374.18 112.16,374.17 111.48,374.16 110.79,374.14 110.11,374.13 109.43,374.12 108.75,374.11 108.06,374.10 107.38,374.09 106.70,374.07 106.02,374.06 105.33,374.05 104.65,374.04 103.97,374.03 103.29,374.01 102.60,374.00 101.92,373.96 101.24,373.91 100.56,373.87 99.87,373.83 99.19,373.79 98.51,373.75 97.83,373.71 97.14,373.67 96.46,373.63 95.78,373.58 95.10,373.54 94.41,373.49 93.73,373.41 93.05,373.33 92.37,373.25 91.68,373.16 91.00,373.08 90.32,373.00 89.64,372.92 88.95,372.83 88.27,372.75 87.59,372.67 86.91,372.59 86.22,372.50 85.54,372.42 84.86,372.34 84.18,372.26 83.49,372.19 82.81,372.21 82.13,372.24 81.45,372.26 80.76,372.28 80.08,372.30 Z" fill="url(#hatch)" stroke="#111" stroke-width="0.85"/>
<path d="M87.93,374.50 87.93,374.50 88.07,368.81 88.21,364.36 88.34,360.28 88.48,356.43 88.62,352.74 88.76,349.17 88.90,345.70 89.03,342.31 89.17,338.99 89.31,335.73 89.45,332.52 89.59,329.36 89.72,326.25 89.86,323.18 90.00,320.14 90.14,317.14 90.28,314.16 90.41,311.22 90.55,308.30 90.69,305.41 90.83,302.55 90.97,299.70 91.10,296.88 91.24,294.08 91.38,291.29 91.52,288.53 91.66,285.78 91.79,283.05 91.93,280.34 92.07,277.64 92.21,274.96 92.35,272.29 92.48,269.63 92.62,266.99 92.76,264.36 92.90,261.75 93.04,259.14 93.17,256.55 93.31,253.97 93.45,251.40 93.59,248.84 93.73,246.29 93.86,243.75 94.00,241.22 94.14,238.70 94.28,241.22 94.42,243.75 94.55,246.29 94.69,248.84 94.83,251.40 94.97,253.97 95.11,256.55 95.24,259.14 95.38,261.75 95.52,264.36 95.66,266.99 95.80,269.63 95.93,272.29 96.07,274.96 96.21,277.64 96.35,280.34 96.49,283.05 96.62,285.78 96.76,288.53 96.90,291.29 97.04,294.08 97.18,296.88 97.31,299.70 97.45,302.55 97.59,305.41 97.73,308.30 97.87,311.22 98.00,314.16 98.14,317.14 98.28,320.14 98.42,323.18 98.56,326.25 98.70,329.36 98.83,332.52 98.97,335.73 99.11,338.99 99.25,342.31 99.39,345.70 99.52,349.17 99.66,352.74 99.80,356.43 99.94,360.28 100.08,364.36 100.21,368.81 100.35,374.50 100.35,374.50 Z" fill="#f2290a" stroke="#1a0000" stroke-width="1.45" stroke-linejoin="round"/>
<path d="M146.28,374.50 146.28,374.50 146.42,374.34 146.56,374.18 146.69,374.01 146.83,373.85 146.97,373.69 147.10,373.53 147.24,373.36 147.38,373.20 147.51,373.04 147.65,372.88 147.78,372.71 147.92,372.55 148.06,372.39 148.19,372.23 148.33,372.06 148.47,371.90 148.60,371.74 148.74,371.58 148.88,371.42 149.01,371.25 149.15,371.09 149.29,370.93 149.42,370.77 149.56,370.60 149.70,370.44 149.83,370.28 149.97,370.12 150.11,369.95 150.24,369.79 150.38,369.63 150.52,369.47 150.65,369.31 150.79,369.14 150.92,368.98 151.06,368.82 151.20,368.66 151.33,368.49 151.47,368.33 151.61,368.17 151.74,368.01 151.88,367.84 152.02,367.68 152.15,367.52 152.29,367.36 152.43,367.19 152.56,367.03 152.70,366.87 152.84,366.71 152.97,366.55 153.11,366.38 153.25,366.22 153.38,366.06 153.52,365.90 153.65,365.73 153.79,365.57 153.93,365.41 154.06,365.25 154.20,365.08 154.34,364.92 154.47,364.76 154.61,364.60 154.75,364.44 154.88,364.60 155.02,364.76 155.16,364.92 155.29,365.08 155.43,365.25 155.57,365.41 155.70,365.57 155.84,365.73 155.98,365.90 156.11,366.06 156.25,366.22 156.38,366.38 156.52,366.55 156.66,366.71 156.79,366.87 156.93,367.03 157.07,367.19 157.20,367.36 157.34,367.52 157.48,367.68 157.61,367.84 157.75,368.01 157.89,368.17 158.02,368.33 158.16,368.49 158.30,368.66 158.43,368.82 158.57,368.98 158.71,369.14 158.84,369.31 158.98,369.47 159.11,369.63 159.25,369.79 159.39,369.95 159.52,370.12 159.66,370.28 159.80,370.44 159.93,370.60 160.07,370.77 160.21,370.93 160.34,371.09 160.48,371.25 160.62,371.42 160.75,371.58 160.89,371.74 161.03,371.90 161.16,372.06 161.30,372.23 161.44,372.39 161.57,372.55 161.71,372.71 161.84,372.88 161.98,373.04 162.12,373.20 162.25,373.36 162.39,373.53 162.53,373.69 162.66,373.85 162.80,374.01 162.94,374.18 163.07,374.34 163.21,374.50 163.21,374.50 Z" fill="#f2290a" stroke="#3a0505" stroke-width="0.9" stroke-linejoin="round"/>
<clipPath id="rc3"><path d="M87.93,374.50 87.93,374.50 88.07,368.81 88.21,364.36 88.34,360.28 88.48,356.43 88.62,352.74 88.76,349.17 88.90,345.70 89.03,342.31 89.17,338.99 89.31,335.73 89.45,332.52 89.59,329.36 89.72,326.25 89.86,323.18 90.00,320.14 90.14,317.14 90.28,314.16 90.41,311.22 90.55,308.30 90.69,305.41 90.83,302.55 90.97,299.70 91.10,296.88 91.24,294.08 91.38,291.29 91.52,288.53 91.66,285.78 91.79,283.05 91.93,280.34 92.07,277.64 92.21,274.96 92.35,272.29 92.48,269.63 92.62,266.99 92.76,264.36 92.90,261.75 93.04,259.14 93.17,256.55 93.31,253.97 93.45,251.40 93.59,248.84 93.73,246.29 93.86,243.75 94.00,241.22 94.14,238.70 94.28,241.22 94.42,243.75 94.55,246.29 94.69,248.84 94.83,251.40 94.97,253.97 95.11,256.55 95.24,259.14 95.38,261.75 95.52,264.36 95.66,266.99 95.80,269.63 95.93,272.29 96.07,274.96 96.21,277.64 96.35,280.34 96.49,283.05 96.62,285.78 96.76,288.53 96.90,291.29 97.04,294.08 97.18,296.88 97.31,299.70 97.45,302.55 97.59,305.41 97.73,308.30 97.87,311.22 98.00,314.16 98.14,317.14 98.28,320.14 98.42,323.18 98.56,326.25 98.70,329.36 98.83,332.52 98.97,335.73 99.11,338.99 99.25,342.31 99.39,345.70 99.52,349.17 99.66,352.74 99.80,356.43 99.94,360.28 100.08,364.36 100.21,368.81 100.35,374.50 100.35,374.50 Z M146.28,374.50 146.28,374.50 146.42,374.34 146.56,374.18 146.69,374.01 146.83,373.85 146.97,373.69 147.10,373.53 147.24,373.36 147.38,373.20 147.51,373.04 147.65,372.88 147.78,372.71 147.92,372.55 148.06,372.39 148.19,372.23 148.33,372.06 148.47,371.90 148.60,371.74 148.74,371.58 148.88,371.42 149.01,371.25 149.15,371.09 149.29,370.93 149.42,370.77 149.56,370.60 149.70,370.44 149.83,370.28 149.97,370.12 150.11,369.95 150.24,369.79 150.38,369.63 150.52,369.47 150.65,369.31 150.79,369.14 150.92,368.98 151.06,368.82 151.20,368.66 151.33,368.49 151.47,368.33 151.61,368.17 151.74,368.01 151.88,367.84 152.02,367.68 152.15,367.52 152.29,367.36 152.43,367.19 152.56,367.03 152.70,366.87 152.84,366.71 152.97,366.55 153.11,366.38 153.25,366.22 153.38,366.06 153.52,365.90 153.65,365.73 153.79,365.57 153.93,365.41 154.06,365.25 154.20,365.08 154.34,364.92 154.47,364.76 154.61,364.60 154.75,364.44 154.88,364.60 155.02,364.76 155.16,364.92 155.29,365.08 155.43,365.25 155.57,365.41 155.70,365.57 155.84,365.73 155.98,365.90 156.11,366.06 156.25,366.22 156.38,366.38 156.52,366.55 156.66,366.71 156.79,366.87 156.93,367.03 157.07,367.19 157.20,367.36 157.34,367.52 157.48,367.68 157.61,367.84 157.75,368.01 157.89,368.17 158.02,368.33 158.16,368.49 158.30,368.66 158.43,368.82 158.57,368.98 158.71,369.14 158.84,369.31 158.98,369.47 159.11,369.63 159.25,369.79 159.39,369.95 159.52,370.12 159.66,370.28 159.80,370.44 159.93,370.60 160.07,370.77 160.21,370.93 160.34,371.09 160.48,371.25 160.62,371.42 160.75,371.58 160.89,371.74 161.03,371.90 161.16,372.06 161.30,372.23 161.44,372.39 161.57,372.55 161.71,372.71 161.84,372.88 161.98,373.04 162.12,373.20 162.25,373.36 162.39,373.53 162.53,373.69 162.66,373.85 162.80,374.01 162.94,374.18 163.07,374.34 163.21,374.50 163.21,374.50 Z"/></clipPath>
<path d="M80.08,372.28 80.76,372.26 81.45,372.22 82.13,372.18 82.81,372.13 83.49,372.07 84.18,372.07 84.86,372.07 85.54,372.04 86.22,371.98 86.91,371.88 87.59,371.73 88.27,371.53 88.95,371.27 89.64,370.96 90.32,370.59 91.00,370.18 91.68,369.73 92.37,369.24 93.05,368.74 93.73,368.24 94.41,367.75 95.10,367.25 95.78,366.78 96.46,366.35 97.14,365.98 97.83,365.66 98.51,365.39 99.19,365.18 99.87,365.02 100.56,364.90 101.24,364.82 101.92,364.76 102.60,364.74 103.29,364.71 103.97,364.68 104.65,364.67 105.33,364.67 106.02,364.67 106.70,364.68 107.38,364.69 108.06,364.70 108.75,364.71 109.43,364.72 110.11,364.73 110.79,364.74 111.48,364.75 112.16,364.76 112.84,364.77 113.52,364.79 114.21,364.80 114.89,364.81 115.57,364.82 116.25,364.83 116.94,364.85 117.62,364.86 118.30,364.87 118.98,364.88 119.67,364.89 120.35,364.90 121.03,364.92 121.71,364.93 122.40,364.93 123.08,364.93 123.76,364.94 124.44,364.94 125.13,364.94 125.81,364.95 126.49,364.95 127.17,364.95 127.86,364.95 128.54,364.96 129.22,364.96 129.90,364.96 130.59,364.97 131.27,364.97 131.95,364.97 132.63,364.97 133.32,364.98 134.00,364.98 134.68,364.98 135.36,364.98 136.05,364.99 136.73,364.99 137.41,364.99 138.09,365.00 138.78,365.00 139.46,365.00 140.14,365.00 140.82,365.01 141.51,365.01 142.19,365.02 142.87,365.03 143.55,365.04 144.24,365.07 144.92,365.12 145.60,365.20 146.28,365.32 146.97,365.51 147.65,365.78 148.33,366.15 149.01,366.64 149.70,367.24 150.38,367.95 151.06,368.74 151.74,369.58 152.43,370.43 153.11,371.25 153.79,372.00 154.47,372.64 155.16,373.17 155.84,373.59 156.52,373.90 157.20,374.12 157.89,374.27 158.57,374.36 159.25,374.42 159.93,374.45 160.62,374.47 L160.62,374.49 159.93,374.49 159.25,374.49 158.57,374.48 157.89,374.48 157.20,374.48 156.52,374.47 155.84,374.47 155.16,374.47 154.47,374.47 153.79,374.46 153.11,374.46 152.43,374.46 151.74,374.46 151.06,374.45 150.38,374.45 149.70,374.45 149.01,374.44 148.33,374.44 147.65,374.44 146.97,374.44 146.28,374.43 145.60,374.43 144.92,374.43 144.24,374.43 143.55,374.42 142.87,374.42 142.19,374.42 141.51,374.41 140.82,374.41 140.14,374.41 139.46,374.41 138.78,374.40 138.09,374.40 137.41,374.40 136.73,374.39 136.05,374.39 135.36,374.39 134.68,374.39 134.00,374.38 133.32,374.38 132.63,374.38 131.95,374.38 131.27,374.37 130.59,374.37 129.90,374.37 129.22,374.36 128.54,374.36 127.86,374.36 127.17,374.36 126.49,374.35 125.81,374.35 125.13,374.35 124.44,374.35 123.76,374.34 123.08,374.34 122.40,374.34 121.71,374.33 121.03,374.32 120.35,374.31 119.67,374.30 118.98,374.29 118.30,374.27 117.62,374.26 116.94,374.25 116.25,374.24 115.57,374.23 114.89,374.21 114.21,374.20 113.52,374.19 112.84,374.18 112.16,374.17 111.48,374.16 110.79,374.14 110.11,374.13 109.43,374.12 108.75,374.11 108.06,374.10 107.38,374.09 106.70,374.07 106.02,374.06 105.33,374.05 104.65,374.04 103.97,374.03 103.29,374.01 102.60,374.00 101.92,373.96 101.24,373.91 100.56,373.87 99.87,373.83 99.19,373.79 98.51,373.75 97.83,373.71 97.14,373.67 96.46,373.63 95.78,373.58 95.10,373.54 94.41,373.49 93.73,373.41 93.05,373.33 92.37,373.25 91.68,373.16 91.00,373.08 90.32,373.00 89.64,372.92 88.95,372.83 88.27,372.75 87.59,372.67 86.91,372.59 86.22,372.50 85.54,372.42 84.86,372.34 84.18,372.26 83.49,372.19 82.81,372.21 82.13,372.24 81.45,372.26 80.76,372.28 80.08,372.30 Z" fill="url(#hatch2)" stroke="none" clip-path="url(#rc3)"/>
<path d="M87.93,374.50 L87.93,374.50 88.07,372.73 88.20,372.74 88.34,372.76 88.48,372.78 88.61,372.79 88.75,372.81 88.89,372.83 89.02,372.84 89.16,372.86 89.29,372.87 89.43,372.89 89.57,372.91 89.70,372.92 89.84,372.94 89.98,372.96 90.11,372.97 90.25,372.99 90.39,373.01 90.52,373.02 90.66,373.04 90.80,373.06 90.93,373.07 91.07,373.09 91.21,373.11 91.34,373.12 91.48,373.14 91.62,373.16 91.75,373.17 91.89,373.19 92.02,373.20 92.16,373.22 92.30,373.24 92.43,373.25 92.57,373.27 92.71,373.29 92.84,373.30 92.98,373.32 93.12,373.34 93.25,373.35 93.39,373.37 93.53,373.39 93.66,373.40 93.80,373.42 93.94,373.44 94.07,373.45 94.21,373.47 94.35,373.49 94.48,373.50 94.62,373.51 94.75,373.52 94.89,373.53 95.03,373.54 95.16,373.55 95.30,373.56 95.44,373.56 95.57,373.57 95.71,373.58 95.85,373.59 95.98,373.60 96.12,373.60 96.26,373.61 96.39,373.62 96.53,373.63 96.67,373.64 96.80,373.65 96.94,373.65 97.08,373.66 97.21,373.67 97.35,373.68 97.48,373.69 97.62,373.70 97.76,373.70 97.89,373.71 98.03,373.72 98.17,373.73 98.30,373.74 98.44,373.75 98.58,373.75 98.71,373.76 98.85,373.77 98.99,373.78 99.12,373.79 99.26,373.79 99.40,373.80 99.53,373.81 99.67,373.82 99.81,373.83 99.94,373.84 100.08,373.84 100.21,373.85 100.35,374.50 L100.35,374.50 Z" fill="#dcd0f0" fill-opacity="0.45" stroke="none"/>
<polyline points="88.07,371.59 88.20,371.55 88.34,371.50 88.48,371.45 88.61,371.40 88.75,371.35 88.89,371.30 89.02,371.24 89.16,371.18 89.29,371.12 89.43,371.06 89.57,370.99 89.70,370.92 89.84,370.85 89.98,370.78 90.11,370.71 90.25,370.63 90.39,370.55 90.52,370.47 90.66,370.39 90.80,370.31 90.93,370.22 91.07,370.14 91.21,370.05 91.34,369.96 91.48,369.87 91.62,369.77 91.75,369.68 91.89,369.58 92.02,369.49 92.16,369.39 92.30,369.29 92.43,369.19 92.57,369.09 92.71,368.99 92.84,368.89 92.98,368.79 93.12,368.69 93.25,368.59 93.39,368.49 93.53,368.39 93.66,368.29 93.80,368.19 93.94,368.09 94.07,367.99 94.21,367.89 94.35,367.80 94.48,367.70 94.62,367.60 94.75,367.50 94.89,367.40 95.03,367.30 95.16,367.20 95.30,367.10 95.44,367.01 95.57,366.92 95.71,366.82 95.85,366.73 95.98,366.65 96.12,366.56 96.26,366.47 96.39,366.39 96.53,366.31 96.67,366.23 96.80,366.16 96.94,366.08 97.08,366.01 97.21,365.94 97.35,365.88 97.48,365.81 97.62,365.75 97.76,365.69 97.89,365.63 98.03,365.57 98.17,365.52 98.30,365.47 98.44,365.42 98.58,365.37 98.71,365.32 98.85,365.28 98.99,365.24 99.12,365.20 99.26,365.16 99.40,365.13 99.53,365.09 99.67,365.06 99.81,365.03 99.94,365.00 100.08,364.98" fill="none" stroke="#5a0000" stroke-width="0.6"/>
<polyline points="50.05,374.50 51.42,372.08 52.78,370.98 54.15,371.11 55.51,371.37 56.88,371.60 58.24,371.76 59.61,371.93 60.97,372.09 62.34,372.22 63.70,372.31 65.07,372.39 66.43,372.47 67.80,372.52 69.16,372.52 70.53,372.52 71.89,372.52 73.26,372.50 74.62,372.46 75.99,372.42 77.35,372.38 78.72,372.33 80.08,372.28 81.45,372.22 82.81,372.13 84.18,372.07 85.54,372.04 86.91,371.88 88.00,368.45 88.13,363.66 88.27,359.42 88.27,359.42 88.41,355.46 88.54,351.68 88.68,348.03 88.82,344.49 88.95,341.04 89.09,337.66 89.23,334.34 89.36,331.08 89.50,327.86 89.64,324.69 89.64,324.69 89.77,321.55 89.91,318.46 90.05,315.39 90.18,312.35 90.32,309.35 90.45,306.37 90.59,303.41 90.73,300.47 90.86,297.56 91.00,294.67 91.00,294.67 91.14,291.79 91.27,288.93 91.41,286.10 91.55,283.27 91.68,280.47 91.82,277.67 91.96,274.90 92.09,272.13 92.23,269.39 92.37,266.65 92.37,266.65 92.50,263.93 92.64,261.21 92.78,258.51 92.91,255.83 93.05,253.15 93.19,250.48 93.32,247.83 93.46,245.18 93.59,242.54 93.73,239.92 93.73,239.92 93.87,237.30 94.00,234.69 94.14,232.09 94.28,234.46 94.41,236.85 94.55,239.24 94.69,241.63 94.82,244.03 94.96,246.44 95.10,248.84 95.10,248.84 95.23,251.26 95.37,253.68 95.51,256.10 95.64,258.53 95.78,260.96 95.91,263.39 96.05,265.82 96.19,268.26 96.32,270.70 96.46,273.14 96.46,273.14 96.60,275.58 96.73,278.02 96.87,280.47 97.01,282.92 97.14,285.37 97.28,287.84 97.42,290.31 97.55,292.79 97.69,295.28 97.83,297.79 97.83,297.79 97.96,300.32 98.10,302.88 98.24,305.47 98.37,308.09 98.51,310.75 98.64,313.46 98.78,316.23 98.92,319.05 99.05,321.95 99.19,324.93 99.19,324.93 99.33,327.99 99.46,331.16 99.60,334.45 99.74,337.88 99.87,341.48 100.01,345.30 100.15,349.43 100.28,354.15 100.56,357.36 101.92,359.13 103.29,361.32 104.65,362.37 106.02,362.65 107.38,362.70 108.75,362.73 110.11,362.75 111.48,362.77 112.84,362.79 114.21,362.82 115.57,362.84 116.94,362.87 118.30,362.89 119.67,362.91 121.03,362.94 122.40,362.95 123.76,362.96 125.13,362.96 126.49,362.97 127.86,362.97 129.22,362.98 130.59,362.99 131.95,362.99 133.32,363.00 134.68,363.00 136.05,363.00 137.41,363.00 138.78,362.98 140.14,362.93 141.51,362.81 142.87,362.58 144.24,362.21 145.60,361.71 146.97,360.39 148.33,358.52 149.70,357.23 151.06,356.70 152.43,356.85 153.79,357.36 154.75,357.71 155.16,358.80 156.52,362.25 157.89,365.32 159.25,368.02 160.62,370.39 161.98,372.50 163.35,374.24 164.71,374.39 166.08,374.45" fill="none" stroke="#1a1a1a" stroke-width="0.7" stroke-linejoin="round"/>
<polyline points="50.05,374.45 51.42,371.29 52.78,371.59 54.15,370.46 55.51,371.54 56.88,371.76 58.24,370.54 59.61,371.83 60.97,372.12 62.34,371.76 63.70,371.60 65.07,372.41 66.43,372.10 67.80,373.13 69.16,372.75 70.53,372.79 71.89,373.35 73.26,373.44 74.62,373.48 75.99,372.57 77.35,372.49 78.72,372.54 80.08,372.24 81.45,373.06 82.81,372.18 84.18,371.92 85.54,371.57 86.91,372.42 88.00,368.80 88.13,364.03 88.27,359.80 88.27,359.80 88.41,356.03 88.54,352.48 88.68,349.06 88.82,345.70 88.95,342.43 89.09,339.24 89.23,336.11 89.36,333.03 89.50,330.00 89.64,327.01 89.64,327.01 89.77,323.71 89.91,320.43 90.05,317.19 90.18,313.98 90.32,310.80 90.45,307.65 90.59,304.51 90.73,301.40 90.86,298.32 91.00,295.25 91.00,295.25 91.14,292.57 91.27,289.91 91.41,287.26 91.55,284.64 91.68,282.03 91.82,279.43 91.96,276.85 92.09,274.28 92.23,271.73 92.37,269.19 92.37,269.19 92.50,266.37 92.64,263.57 92.78,260.78 92.91,258.00 93.05,255.24 93.19,252.48 93.32,249.74 93.46,247.00 93.59,244.27 93.73,241.56 93.73,241.56 93.87,238.65 94.00,235.75 94.14,232.85 94.28,234.94 94.41,237.03 94.55,239.14 94.69,241.24 94.82,243.34 94.96,245.45 95.10,247.57 95.10,247.57 95.23,250.37 95.37,253.17 95.51,255.97 95.64,258.78 95.78,261.59 95.91,264.41 96.05,267.22 96.19,270.04 96.32,272.86 96.46,275.68 96.46,275.68 96.60,277.78 96.73,279.87 96.87,281.97 97.01,284.08 97.14,286.18 97.28,288.30 97.42,290.42 97.55,292.56 97.69,294.70 97.83,296.87 97.83,296.87 97.96,299.45 98.10,302.06 98.24,304.70 98.37,307.38 98.51,310.09 98.64,312.85 98.78,315.67 98.92,318.54 99.05,321.48 99.19,324.49 99.19,324.49 99.33,327.61 99.46,330.83 99.60,334.16 99.74,337.62 99.87,341.25 100.01,345.08 100.15,349.22 100.28,353.90 100.56,357.03 101.92,357.04 103.29,359.96 104.65,361.37 106.02,362.84 107.38,363.21 108.75,363.24 110.11,363.59 111.48,362.81 112.84,363.46 114.21,361.91 115.57,364.43 116.94,363.79 118.30,363.70 119.67,364.69 121.03,361.32 122.40,364.99 123.76,363.20 125.13,363.41 126.49,361.57 127.86,364.65 129.22,362.07 130.59,363.60 131.95,363.12 133.32,363.56 134.68,362.46 136.05,363.97 137.41,363.07 138.78,362.68 140.14,361.37 141.51,364.86 142.87,361.28 144.24,361.39 145.60,362.13 146.97,360.12 148.33,358.97 149.70,355.61 151.06,356.48 152.43,356.95 153.79,357.04 154.75,356.81 155.16,357.61 156.52,360.43 157.89,364.49 159.25,365.81 160.62,371.52 161.98,374.50 163.35,374.31 164.71,374.47 166.08,374.24" fill="none" stroke="#555" stroke-width="0.7" stroke-linejoin="round"/>
<g stroke="#141414" stroke-width="0.9"><line x1="26.30" y1="209.50" x2="26.30" y2="380.00"/><line x1="20.80" y1="374.50" x2="231.45" y2="374.50"/><line x1="23.80" y1="367.90" x2="26.30" y2="367.90"/><line x1="23.80" y1="361.30" x2="26.30" y2="361.30"/><line x1="23.80" y1="354.70" x2="26.30" y2="354.70"/><line x1="23.80" y1="348.10" x2="26.30" y2="348.10"/><line x1="20.80" y1="341.50" x2="26.30" y2="341.50"/><line x1="23.80" y1="334.90" x2="26.30" y2="334.90"/><line x1="23.80" y1="328.30" x2="26.30" y2="328.30"/><line x1="23.80" y1="321.70" x2="26.30" y2="321.70"/><line x1="23.80" y1="315.10" x2="26.30" y2="315.10"/><line x1="20.80" y1="308.50" x2="26.30" y2="308.50"/><line x1="23.80" y1="301.90" x2="26.30" y2="301.90"/><line x1="23.80" y1="295.30" x2="26.30" y2="295.30"/><line x1="23.80" y1="288.70" x2="26.30" y2="288.70"/><line x1="23.80" y1="282.10" x2="26.30" y2="282.10"/><line x1="20.80" y1="275.50" x2="26.30" y2="275.50"/><line x1="23.80" y1="268.90" x2="26.30" y2="268.90"/><line x1="23.80" y1="262.30" x2="26.30" y2="262.30"/><line x1="23.80" y1="255.70" x2="26.30" y2="255.70"/><line x1="23.80" y1="249.10" x2="26.30" y2="249.10"/><line x1="20.80" y1="242.50" x2="26.30" y2="242.50"/><line x1="23.80" y1="235.90" x2="26.30" y2="235.90"/><line x1="23.80" y1="229.30" x2="26.30" y2="229.30"/><line x1="23.80" y1="222.70" x2="26.30" y2="222.70"/><line x1="23.80" y1="216.10" x2="26.30" y2="216.10"/><line x1="34.49" y1="374.50" x2="34.49" y2="377.00"/><line x1="42.68" y1="374.50" x2="42.68" y2="377.00"/><line x1="50.87" y1="374.50" x2="50.87" y2="377.00"/><line x1="59.06" y1="374.50" x2="59.06" y2="377.00"/><line x1="67.25" y1="374.50" x2="67.25" y2="380.00"/><line x1="75.44" y1="374.50" x2="75.44" y2="377.00"/><line x1="83.63" y1="374.50" x2="83.63" y2="377.00"/><line x1="91.82" y1="374.50" x2="91.82" y2="377.00"/><line x1="100.01" y1="374.50" x2="100.01" y2="377.00"/><line x1="108.20" y1="374.50" x2="108.20" y2="380.00"/><line x1="116.39" y1="374.50" x2="116.39" y2="377.00"/><line x1="124.58" y1="374.50" x2="124.58" y2="377.00"/><line x1="132.77" y1="374.50" x2="132.77" y2="377.00"/><line x1="140.96" y1="374.50" x2="140.96" y2="377.00"/><line x1="149.15" y1="374.50" x2="149.15" y2="380.00"/><line x1="157.34" y1="374.50" x2="157.34" y2="377.00"/><line x1="165.53" y1="374.50" x2="165.53" y2="377.00"/><line x1="173.72" y1="374.50" x2="173.72" y2="377.00"/><line x1="181.91" y1="374.50" x2="181.91" y2="377.00"/><line x1="190.10" y1="374.50" x2="190.10" y2="380.00"/><line x1="198.29" y1="374.50" x2="198.29" y2="377.00"/><line x1="206.48" y1="374.50" x2="206.48" y2="377.00"/><line x1="214.67" y1="374.50" x2="214.67" y2="377.00"/><line x1="222.86" y1="374.50" x2="222.86" y2="377.00"/><line x1="231.05" y1="374.50" x2="231.05" y2="380.00"/></g>
<g font-family="Liberation Sans, sans-serif" font-size="6" fill="#3a3a3a" stroke="#3a3a3a" stroke-width="0.12"><text transform="translate(16.30,374.50) rotate(-90)" text-anchor="middle">0</text><text transform="translate(16.30,341.50) rotate(-90)" text-anchor="middle">200</text><text transform="translate(16.30,308.50) rotate(-90)" text-anchor="middle">400</text><text transform="translate(16.30,275.50) rotate(-90)" text-anchor="middle">600</text><text transform="translate(16.30,242.50) rotate(-90)" text-anchor="middle">800</text><text x="26.30" y="387.50" text-anchor="middle">0</text><text x="67.25" y="387.50" text-anchor="middle">30</text><text x="108.20" y="387.50" text-anchor="middle">60</text><text x="149.15" y="387.50" text-anchor="middle">90</text><text x="190.10" y="387.50" text-anchor="middle">120</text><text x="231.05" y="387.50" text-anchor="middle">150</text></g>
<text x="128.68" y="394.20" text-anchor="middle" font-family="Liberation Sans, sans-serif" font-size="7" fill="#404040">Channels (FL2-A)</text>
<text transform="translate(10.50,292.00) rotate(-90)" text-anchor="middle" font-family="Liberation Sans, sans-serif" font-size="6.7" fill="#404040">Number</text>
<path d="M94.41,375.80 L91.71,380.70 L97.11,380.70 Z" fill="#000"/>
<text x="187.00" y="234.90" font-family="Liberation Serif, serif" font-size="8.8"  textLength="34.7" lengthAdjust="spacingAndGlyphs" fill="#222" stroke="#222" stroke-width="0.08">65.23 µM</text>
<path d="M284.25,374.20 L284.25,374.20 284.93,373.36 285.61,373.31 286.30,373.25 286.98,373.20 287.66,373.16 288.34,373.17 289.02,373.18 289.70,373.19 290.38,373.20 291.06,373.21 291.74,373.22 292.42,373.23 293.10,373.25 293.78,373.26 294.46,373.27 295.14,373.28 295.82,373.29 296.50,373.30 297.18,373.31 297.86,373.32 298.54,373.33 299.22,373.34 299.91,373.35 300.59,373.36 301.27,373.37 301.95,373.37 302.63,373.37 303.31,373.37 303.99,373.37 304.67,373.37 305.35,373.37 306.03,373.37 306.71,373.37 307.39,373.37 308.07,373.37 308.75,373.37 309.43,373.37 310.11,373.37 310.79,373.37 311.47,373.37 312.15,373.37 312.83,373.37 313.52,373.37 314.20,373.37 314.88,373.37 315.56,373.39 316.24,373.41 316.92,373.42 317.60,373.44 318.28,373.46 318.96,373.48 319.64,373.49 320.32,373.51 321.00,373.53 321.68,373.54 322.36,373.56 323.04,373.58 323.72,373.61 324.40,373.63 325.08,373.66 325.76,373.69 326.44,373.71 327.13,373.74 327.81,373.76 328.49,373.79 329.17,373.80 329.85,373.81 330.53,373.82 331.21,373.83 331.89,373.84 332.57,373.85 333.25,373.86 333.93,373.87 334.61,373.88 335.29,373.89 335.97,373.90 336.65,373.91 337.33,373.92 338.01,373.93 338.69,373.94 339.37,373.95 340.05,373.96 340.74,373.97 341.42,373.98 342.10,373.99 342.78,374.00 343.46,374.00 344.14,374.00 344.82,374.00 345.50,374.01 346.18,374.01 346.86,374.01 347.54,374.01 348.22,374.02 348.90,374.02 349.58,374.02 350.26,374.02 350.94,374.03 351.62,374.03 352.30,374.03 352.98,374.03 353.66,374.04 354.35,374.04 355.03,374.04 355.71,374.04 356.39,374.05 357.07,374.05 357.75,374.05 358.43,374.05 359.11,374.06 359.79,374.06 360.47,374.06 361.15,374.07 361.83,374.07 362.51,374.07 363.19,374.07 363.87,374.08 364.55,374.08 365.23,374.08 365.91,374.08 366.59,374.09 367.27,374.09 367.96,374.09 368.64,374.09 369.32,374.10 370.00,374.10 370.68,374.10 371.36,374.10 372.04,374.11 372.72,374.11 373.40,374.11 374.08,374.11 374.76,374.12 375.44,374.12 376.12,374.12 376.80,374.13 377.48,374.13 378.16,374.13 378.84,374.13 379.52,374.14 380.20,374.14 380.88,374.14 381.57,374.14 382.25,374.15 382.93,374.15 383.61,374.15 384.29,374.15 384.97,374.16 385.65,374.16 386.33,374.16 387.01,374.16 387.69,374.17 388.37,374.17 389.05,374.17 389.73,374.17 390.41,374.18 391.09,374.18 391.77,374.18 392.45,374.18 393.13,374.19 393.81,374.19 394.49,374.19 395.18,374.20 395.86,374.20 396.54,374.20 397.22,374.20 397.90,374.20 398.58,374.20 399.26,374.20 399.94,374.20 L399.94,374.20 Z" fill="#cdcdf5" stroke="#14143a" stroke-width="0.95"/>
<path d="M316.24,373.39 316.92,373.39 317.60,373.38 318.28,373.35 318.96,373.31 319.64,373.22 320.32,373.10 321.00,372.92 321.68,372.66 322.36,372.31 323.04,371.86 323.72,371.31 324.40,370.64 325.08,369.86 325.76,368.97 326.44,367.99 327.13,366.96 327.81,365.90 328.49,364.85 329.17,363.82 329.85,362.86 330.53,361.99 331.21,361.24 331.89,360.60 332.57,360.08 333.25,359.66 333.93,359.35 334.61,359.12 335.29,358.95 335.97,358.84 336.65,358.76 337.33,358.72 338.01,358.69 338.69,358.68 339.37,358.68 340.05,358.68 340.74,358.69 341.42,358.70 342.10,358.71 342.78,358.71 343.46,358.71 344.14,358.71 344.82,358.71 345.50,358.72 346.18,358.72 346.86,358.72 347.54,358.73 348.22,358.73 348.90,358.73 349.58,358.73 350.26,358.74 350.94,358.74 351.62,358.74 352.30,358.74 352.98,358.75 353.66,358.75 354.35,358.75 355.03,358.75 355.71,358.76 356.39,358.76 357.07,358.76 357.75,358.76 358.43,358.77 359.11,358.77 359.79,358.77 360.47,358.77 361.15,358.78 361.83,358.78 362.51,358.78 363.19,358.79 363.87,358.79 364.55,358.79 365.23,358.79 365.91,358.80 366.59,358.80 367.27,358.80 367.96,358.80 368.64,358.81 369.32,358.81 370.00,358.81 370.68,358.81 371.36,358.82 372.04,358.82 372.72,358.83 373.40,358.84 374.08,358.85 374.76,358.87 375.44,358.91 376.12,358.97 376.80,359.07 377.48,359.22 378.16,359.44 378.84,359.75 379.52,360.18 380.20,360.73 380.88,361.43 381.57,362.27 382.25,363.26 382.93,364.36 383.61,365.54 384.29,366.75 384.97,367.96 385.65,369.11 386.33,370.17 387.01,371.10 387.69,371.89 388.37,372.53 389.05,373.03 389.73,373.40 390.41,373.67 391.09,373.86 391.77,373.99 392.45,374.07 393.13,374.12 393.81,374.16 L393.81,374.19 393.13,374.19 392.45,374.18 391.77,374.18 391.09,374.18 390.41,374.18 389.73,374.17 389.05,374.17 388.37,374.17 387.69,374.17 387.01,374.16 386.33,374.16 385.65,374.16 384.97,374.16 384.29,374.15 383.61,374.15 382.93,374.15 382.25,374.15 381.57,374.14 380.88,374.14 380.20,374.14 379.52,374.14 378.84,374.13 378.16,374.13 377.48,374.13 376.80,374.13 376.12,374.12 375.44,374.12 374.76,374.12 374.08,374.11 373.40,374.11 372.72,374.11 372.04,374.11 371.36,374.10 370.68,374.10 370.00,374.10 369.32,374.10 368.64,374.09 367.96,374.09 367.27,374.09 366.59,374.09 365.91,374.08 365.23,374.08 364.55,374.08 363.87,374.08 363.19,374.07 362.51,374.07 361.83,374.07 361.15,374.07 360.47,374.06 359.79,374.06 359.11,374.06 358.43,374.05 357.75,374.05 357.07,374.05 356.39,374.05 355.71,374.04 355.03,374.04 354.35,374.04 353.66,374.04 352.98,374.03 352.30,374.03 351.62,374.03 350.94,374.03 350.26,374.02 349.58,374.02 348.90,374.02 348.22,374.02 347.54,374.01 346.86,374.01 346.18,374.01 345.50,374.01 344.82,374.00 344.14,374.00 343.46,374.00 342.78,374.00 342.10,373.99 341.42,373.98 340.74,373.97 340.05,373.96 339.37,373.95 338.69,373.94 338.01,373.93 337.33,373.92 336.65,373.91 335.97,373.90 335.29,373.89 334.61,373.88 333.93,373.87 333.25,373.86 332.57,373.85 331.89,373.84 331.21,373.83 330.53,373.82 329.85,373.81 329.17,373.80 328.49,373.79 327.81,373.76 327.13,373.74 326.44,373.71 325.76,373.69 325.08,373.66 324.40,373.63 323.72,373.61 323.04,373.58 322.36,373.56 321.68,373.54 321.00,373.53 320.32,373.51 319.64,373.49 318.96,373.48 318.28,373.46 317.60,373.44 316.92,373.42 316.24,373.41 Z" fill="url(#hatch)" stroke="#111" stroke-width="0.85"/>
<path d="M320.25,374.20 320.25,374.20 320.39,371.44 320.52,368.67 320.66,365.91 320.80,363.14 320.93,360.38 321.07,357.61 321.20,354.85 321.34,352.09 321.48,349.32 321.61,346.56 321.75,343.79 321.89,341.03 322.02,338.26 322.16,335.50 322.29,332.74 322.43,329.97 322.57,327.21 322.70,324.44 322.84,321.68 322.97,318.91 323.11,316.15 323.25,313.39 323.38,310.62 323.52,307.86 323.65,305.09 323.79,302.33 323.93,299.56 324.06,296.80 324.20,294.04 324.34,291.27 324.47,288.51 324.61,285.74 324.74,282.98 324.88,280.22 325.02,277.45 325.15,274.69 325.29,271.92 325.42,269.16 325.56,266.39 325.70,263.63 325.83,260.87 325.97,258.10 326.10,255.34 326.24,252.57 326.38,249.81 326.51,247.04 326.65,244.28 326.78,241.52 326.92,238.75 327.06,235.99 327.19,233.22 327.33,230.46 327.47,227.69 327.53,226.31 327.60,227.69 327.74,230.46 327.87,233.22 328.01,235.99 328.15,238.75 328.28,241.52 328.42,244.28 328.55,247.04 328.69,249.81 328.83,252.57 328.96,255.34 329.10,258.10 329.23,260.87 329.37,263.63 329.51,266.39 329.64,269.16 329.78,271.92 329.92,274.69 330.05,277.45 330.19,280.22 330.32,282.98 330.46,285.74 330.60,288.51 330.73,291.27 330.87,294.04 331.00,296.80 331.14,299.56 331.28,302.33 331.41,305.09 331.55,307.86 331.68,310.62 331.82,313.39 331.96,316.15 332.09,318.91 332.23,321.68 332.36,324.44 332.50,327.21 332.64,329.97 332.77,332.74 332.91,335.50 333.05,338.26 333.18,341.03 333.32,343.79 333.45,346.56 333.59,349.32 333.73,352.09 333.86,354.85 334.00,357.61 334.13,360.38 334.27,363.14 334.41,365.91 334.54,368.67 334.68,371.44 334.81,374.20 334.81,374.20 Z" fill="#f2290a" stroke="#1a0000" stroke-width="1.45" stroke-linejoin="round"/>
<path d="M378.03,374.20 378.03,374.20 378.16,374.01 378.30,373.82 378.43,373.64 378.57,373.45 378.71,373.26 378.84,373.07 378.98,372.89 379.12,372.70 379.25,372.51 379.39,372.32 379.52,372.13 379.66,371.95 379.80,371.76 379.93,371.57 380.07,371.38 380.20,371.20 380.34,371.01 380.48,370.82 380.61,370.63 380.75,370.44 380.88,370.26 381.02,370.07 381.16,369.88 381.29,369.69 381.43,369.51 381.57,369.32 381.70,369.13 381.84,368.94 381.97,368.75 382.11,368.57 382.25,368.38 382.38,368.19 382.52,368.00 382.65,367.82 382.79,367.63 382.93,367.44 383.06,367.25 383.20,367.06 383.33,366.88 383.47,366.69 383.61,366.50 383.74,366.31 383.88,366.13 384.01,365.94 384.15,365.75 384.29,365.56 384.42,365.37 384.56,365.19 384.70,365.00 384.83,364.81 384.97,364.62 385.10,364.44 385.24,364.25 385.38,364.06 385.51,363.87 385.65,363.68 385.78,363.50 385.92,363.31 386.06,363.12 386.19,362.93 386.33,362.75 386.46,362.56 386.60,362.37 386.74,362.18 386.87,361.99 387.01,361.81 387.15,361.62 387.28,361.43 387.42,361.24 387.55,361.06 387.69,360.87 387.83,360.68 387.96,360.87 388.10,361.06 388.23,361.24 388.37,361.43 388.51,361.62 388.64,361.81 388.78,361.99 388.91,362.18 389.05,362.37 389.19,362.56 389.32,362.75 389.46,362.93 389.60,363.12 389.73,363.31 389.87,363.50 390.00,363.68 390.14,363.87 390.28,364.06 390.41,364.25 390.55,364.44 390.68,364.62 390.82,364.81 390.96,365.00 391.09,365.19 391.23,365.37 391.36,365.56 391.50,365.75 391.64,365.94 391.77,366.13 391.91,366.31 392.04,366.50 392.18,366.69 392.32,366.88 392.45,367.06 392.59,367.25 392.73,367.44 392.86,367.63 393.00,367.82 393.13,368.00 393.27,368.19 393.41,368.38 393.54,368.57 393.68,368.75 393.81,368.94 393.95,369.13 394.09,369.32 394.22,369.51 394.36,369.69 394.49,369.88 394.63,370.07 394.77,370.26 394.90,370.44 395.04,370.63 395.18,370.82 395.31,371.01 395.45,371.20 395.58,371.38 395.72,371.57 395.86,371.76 395.99,371.95 396.13,372.13 396.26,372.32 396.40,372.51 396.54,372.70 396.67,372.89 396.81,373.07 396.94,373.26 397.08,373.45 397.22,373.64 397.35,373.82 397.49,374.01 397.62,374.20 397.62,374.20 Z" fill="#f2290a" stroke="#3a0505" stroke-width="0.9" stroke-linejoin="round"/>
<clipPath id="rc4"><path d="M320.25,374.20 320.25,374.20 320.39,371.44 320.52,368.67 320.66,365.91 320.80,363.14 320.93,360.38 321.07,357.61 321.20,354.85 321.34,352.09 321.48,349.32 321.61,346.56 321.75,343.79 321.89,341.03 322.02,338.26 322.16,335.50 322.29,332.74 322.43,329.97 322.57,327.21 322.70,324.44 322.84,321.68 322.97,318.91 323.11,316.15 323.25,313.39 323.38,310.62 323.52,307.86 323.65,305.09 323.79,302.33 323.93,299.56 324.06,296.80 324.20,294.04 324.34,291.27 324.47,288.51 324.61,285.74 324.74,282.98 324.88,280.22 325.02,277.45 325.15,274.69 325.29,271.92 325.42,269.16 325.56,266.39 325.70,263.63 325.83,260.87 325.97,258.10 326.10,255.34 326.24,252.57 326.38,249.81 326.51,247.04 326.65,244.28 326.78,241.52 326.92,238.75 327.06,235.99 327.19,233.22 327.33,230.46 327.47,227.69 327.53,226.31 327.60,227.69 327.74,230.46 327.87,233.22 328.01,235.99 328.15,238.75 328.28,241.52 328.42,244.28 328.55,247.04 328.69,249.81 328.83,252.57 328.96,255.34 329.10,258.10 329.23,260.87 329.37,263.63 329.51,266.39 329.64,269.16 329.78,271.92 329.92,274.69 330.05,277.45 330.19,280.22 330.32,282.98 330.46,285.74 330.60,288.51 330.73,291.27 330.87,294.04 331.00,296.80 331.14,299.56 331.28,302.33 331.41,305.09 331.55,307.86 331.68,310.62 331.82,313.39 331.96,316.15 332.09,318.91 332.23,321.68 332.36,324.44 332.50,327.21 332.64,329.97 332.77,332.74 332.91,335.50 333.05,338.26 333.18,341.03 333.32,343.79 333.45,346.56 333.59,349.32 333.73,352.09 333.86,354.85 334.00,357.61 334.13,360.38 334.27,363.14 334.41,365.91 334.54,368.67 334.68,371.44 334.81,374.20 334.81,374.20 Z M378.03,374.20 378.03,374.20 378.16,374.01 378.30,373.82 378.43,373.64 378.57,373.45 378.71,373.26 378.84,373.07 378.98,372.89 379.12,372.70 379.25,372.51 379.39,372.32 379.52,372.13 379.66,371.95 379.80,371.76 379.93,371.57 380.07,371.38 380.20,371.20 380.34,371.01 380.48,370.82 380.61,370.63 380.75,370.44 380.88,370.26 381.02,370.07 381.16,369.88 381.29,369.69 381.43,369.51 381.57,369.32 381.70,369.13 381.84,368.94 381.97,368.75 382.11,368.57 382.25,368.38 382.38,368.19 382.52,368.00 382.65,367.82 382.79,367.63 382.93,367.44 383.06,367.25 383.20,367.06 383.33,366.88 383.47,366.69 383.61,366.50 383.74,366.31 383.88,366.13 384.01,365.94 384.15,365.75 384.29,365.56 384.42,365.37 384.56,365.19 384.70,365.00 384.83,364.81 384.97,364.62 385.10,364.44 385.24,364.25 385.38,364.06 385.51,363.87 385.65,363.68 385.78,363.50 385.92,363.31 386.06,363.12 386.19,362.93 386.33,362.75 386.46,362.56 386.60,362.37 386.74,362.18 386.87,361.99 387.01,361.81 387.15,361.62 387.28,361.43 387.42,361.24 387.55,361.06 387.69,360.87 387.83,360.68 387.96,360.87 388.10,361.06 388.23,361.24 388.37,361.43 388.51,361.62 388.64,361.81 388.78,361.99 388.91,362.18 389.05,362.37 389.19,362.56 389.32,362.75 389.46,362.93 389.60,363.12 389.73,363.31 389.87,363.50 390.00,363.68 390.14,363.87 390.28,364.06 390.41,364.25 390.55,364.44 390.68,364.62 390.82,364.81 390.96,365.00 391.09,365.19 391.23,365.37 391.36,365.56 391.50,365.75 391.64,365.94 391.77,366.13 391.91,366.31 392.04,366.50 392.18,366.69 392.32,366.88 392.45,367.06 392.59,367.25 392.73,367.44 392.86,367.63 393.00,367.82 393.13,368.00 393.27,368.19 393.41,368.38 393.54,368.57 393.68,368.75 393.81,368.94 393.95,369.13 394.09,369.32 394.22,369.51 394.36,369.69 394.49,369.88 394.63,370.07 394.77,370.26 394.90,370.44 395.04,370.63 395.18,370.82 395.31,371.01 395.45,371.20 395.58,371.38 395.72,371.57 395.86,371.76 395.99,371.95 396.13,372.13 396.26,372.32 396.40,372.51 396.54,372.70 396.67,372.89 396.81,373.07 396.94,373.26 397.08,373.45 397.22,373.64 397.35,373.82 397.49,374.01 397.62,374.20 397.62,374.20 Z"/></clipPath>
<path d="M316.24,373.39 316.92,373.39 317.60,373.38 318.28,373.35 318.96,373.31 319.64,373.22 320.32,373.10 321.00,372.92 321.68,372.66 322.36,372.31 323.04,371.86 323.72,371.31 324.40,370.64 325.08,369.86 325.76,368.97 326.44,367.99 327.13,366.96 327.81,365.90 328.49,364.85 329.17,363.82 329.85,362.86 330.53,361.99 331.21,361.24 331.89,360.60 332.57,360.08 333.25,359.66 333.93,359.35 334.61,359.12 335.29,358.95 335.97,358.84 336.65,358.76 337.33,358.72 338.01,358.69 338.69,358.68 339.37,358.68 340.05,358.68 340.74,358.69 341.42,358.70 342.10,358.71 342.78,358.71 343.46,358.71 344.14,358.71 344.82,358.71 345.50,358.72 346.18,358.72 346.86,358.72 347.54,358.73 348.22,358.73 348.90,358.73 349.58,358.73 350.26,358.74 350.94,358.74 351.62,358.74 352.30,358.74 352.98,358.75 353.66,358.75 354.35,358.75 355.03,358.75 355.71,358.76 356.39,358.76 357.07,358.76 357.75,358.76 358.43,358.77 359.11,358.77 359.79,358.77 360.47,358.77 361.15,358.78 361.83,358.78 362.51,358.78 363.19,358.79 363.87,358.79 364.55,358.79 365.23,358.79 365.91,358.80 366.59,358.80 367.27,358.80 367.96,358.80 368.64,358.81 369.32,358.81 370.00,358.81 370.68,358.81 371.36,358.82 372.04,358.82 372.72,358.83 373.40,358.84 374.08,358.85 374.76,358.87 375.44,358.91 376.12,358.97 376.80,359.07 377.48,359.22 378.16,359.44 378.84,359.75 379.52,360.18 380.20,360.73 380.88,361.43 381.57,362.27 382.25,363.26 382.93,364.36 383.61,365.54 384.29,366.75 384.97,367.96 385.65,369.11 386.33,370.17 387.01,371.10 387.69,371.89 388.37,372.53 389.05,373.03 389.73,373.40 390.41,373.67 391.09,373.86 391.77,373.99 392.45,374.07 393.13,374.12 393.81,374.16 L393.81,374.19 393.13,374.19 392.45,374.18 391.77,374.18 391.09,374.18 390.41,374.18 389.73,374.17 389.05,374.17 388.37,374.17 387.69,374.17 387.01,374.16 386.33,374.16 385.65,374.16 384.97,374.16 384.29,374.15 383.61,374.15 382.93,374.15 382.25,374.15 381.57,374.14 380.88,374.14 380.20,374.14 379.52,374.14 378.84,374.13 378.16,374.13 377.48,374.13 376.80,374.13 376.12,374.12 375.44,374.12 374.76,374.12 374.08,374.11 373.40,374.11 372.72,374.11 372.04,374.11 371.36,374.10 370.68,374.10 370.00,374.10 369.32,374.10 368.64,374.09 367.96,374.09 367.27,374.09 366.59,374.09 365.91,374.08 365.23,374.08 364.55,374.08 363.87,374.08 363.19,374.07 362.51,374.07 361.83,374.07 361.15,374.07 360.47,374.06 359.79,374.06 359.11,374.06 358.43,374.05 357.75,374.05 357.07,374.05 356.39,374.05 355.71,374.04 355.03,374.04 354.35,374.04 353.66,374.04 352.98,374.03 352.30,374.03 351.62,374.03 350.94,374.03 350.26,374.02 349.58,374.02 348.90,374.02 348.22,374.02 347.54,374.01 346.86,374.01 346.18,374.01 345.50,374.01 344.82,374.00 344.14,374.00 343.46,374.00 342.78,374.00 342.10,373.99 341.42,373.98 340.74,373.97 340.05,373.96 339.37,373.95 338.69,373.94 338.01,373.93 337.33,373.92 336.65,373.91 335.97,373.90 335.29,373.89 334.61,373.88 333.93,373.87 333.25,373.86 332.57,373.85 331.89,373.84 331.21,373.83 330.53,373.82 329.85,373.81 329.17,373.80 328.49,373.79 327.81,373.76 327.13,373.74 326.44,373.71 325.76,373.69 325.08,373.66 324.40,373.63 323.72,373.61 323.04,373.58 322.36,373.56 321.68,373.54 321.00,373.53 320.32,373.51 319.64,373.49 318.96,373.48 318.28,373.46 317.60,373.44 316.92,373.42 316.24,373.41 Z" fill="url(#hatch2)" stroke="none" clip-path="url(#rc4)"/>
<path d="M320.25,374.20 L320.25,374.20 320.39,373.51 320.52,373.52 320.66,373.52 320.80,373.52 320.93,373.53 321.07,373.53 321.20,373.53 321.34,373.54 321.48,373.54 321.61,373.54 321.75,373.55 321.89,373.55 322.02,373.55 322.16,373.56 322.29,373.56 322.43,373.56 322.57,373.57 322.70,373.57 322.84,373.57 322.97,373.58 323.11,373.58 323.25,373.59 323.38,373.59 323.52,373.60 323.65,373.60 323.79,373.61 323.93,373.62 324.06,373.62 324.20,373.63 324.34,373.63 324.47,373.64 324.61,373.64 324.74,373.65 324.88,373.65 325.02,373.66 325.15,373.66 325.29,373.67 325.42,373.67 325.56,373.68 325.70,373.68 325.83,373.69 325.97,373.69 326.10,373.70 326.24,373.70 326.38,373.71 326.51,373.71 326.65,373.72 326.78,373.72 326.92,373.73 327.06,373.73 327.19,373.74 327.33,373.75 327.47,373.75 327.60,373.76 327.74,373.76 327.87,373.77 328.01,373.77 328.15,373.78 328.28,373.78 328.42,373.79 328.55,373.79 328.69,373.79 328.83,373.79 328.96,373.79 329.10,373.80 329.23,373.80 329.37,373.80 329.51,373.80 329.64,373.80 329.78,373.81 329.92,373.81 330.05,373.81 330.19,373.81 330.32,373.81 330.46,373.82 330.60,373.82 330.73,373.82 330.87,373.82 331.00,373.82 331.14,373.83 331.28,373.83 331.41,373.83 331.55,373.83 331.68,373.83 331.82,373.84 331.96,373.84 332.09,373.84 332.23,373.84 332.36,373.85 332.50,373.85 332.64,373.85 332.77,373.85 332.91,373.85 333.05,373.86 333.18,373.86 333.32,373.86 333.45,373.86 333.59,373.86 333.73,373.87 333.86,373.87 334.00,373.87 334.13,373.87 334.27,373.87 334.41,373.88 334.54,373.88 334.68,373.88 334.81,374.20 L334.81,374.20 Z" fill="#dcd0f0" fill-opacity="0.45" stroke="none"/>
<polyline points="320.39,373.08 320.52,373.05 320.66,373.02 320.80,372.98 320.93,372.94 321.07,372.89 321.20,372.85 321.34,372.80 321.48,372.74 321.61,372.69 321.75,372.63 321.89,372.56 322.02,372.50 322.16,372.43 322.29,372.35 322.43,372.27 322.57,372.19 322.70,372.10 322.84,372.01 322.97,371.91 323.11,371.81 323.25,371.71 323.38,371.60 323.52,371.49 323.65,371.37 323.79,371.25 323.93,371.12 324.06,370.99 324.20,370.85 324.34,370.71 324.47,370.57 324.61,370.42 324.74,370.26 324.88,370.10 325.02,369.94 325.15,369.77 325.29,369.60 325.42,369.42 325.56,369.24 325.70,369.06 325.83,368.87 325.97,368.68 326.10,368.49 326.24,368.29 326.38,368.09 326.51,367.89 326.65,367.69 326.78,367.48 326.92,367.28 327.06,367.07 327.19,366.86 327.33,366.64 327.47,366.43 327.60,366.22 327.74,366.01 327.87,365.80 328.01,365.58 328.15,365.37 328.28,365.16 328.42,364.95 328.55,364.74 328.69,364.53 328.83,364.32 328.96,364.12 329.10,363.92 329.23,363.72 329.37,363.52 329.51,363.33 329.64,363.14 329.78,362.95 329.92,362.77 330.05,362.59 330.19,362.41 330.32,362.24 330.46,362.08 330.60,361.91 330.73,361.76 330.87,361.60 331.00,361.45 331.14,361.31 331.28,361.17 331.41,361.03 331.55,360.90 331.68,360.78 331.82,360.66 331.96,360.54 332.09,360.43 332.23,360.33 332.36,360.22 332.50,360.13 332.64,360.03 332.77,359.94 332.91,359.86 333.05,359.78 333.18,359.70 333.32,359.63 333.45,359.56 333.59,359.50 333.73,359.43 333.86,359.38 334.00,359.32" fill="none" stroke="#5a0000" stroke-width="0.6"/>
<polyline points="284.25,374.20 285.61,373.31 286.98,373.20 288.34,373.17 289.70,373.19 291.06,373.21 292.42,373.23 293.78,373.26 295.14,373.28 296.50,373.30 297.86,373.32 299.22,373.34 300.59,373.36 301.95,373.37 303.31,373.37 304.67,373.37 306.03,373.37 307.39,373.37 308.75,373.37 310.11,373.37 311.47,373.37 312.83,373.37 314.20,373.36 315.56,373.38 316.92,373.39 318.28,373.35 319.64,373.22 320.32,371.72 320.46,368.92 320.59,366.12 320.73,363.32 320.86,360.52 321.00,357.71 321.00,357.71 321.14,354.90 321.27,352.09 321.41,349.27 321.55,346.46 321.68,343.63 321.82,340.81 321.95,337.98 322.09,335.14 322.23,332.31 322.36,329.47 322.50,326.62 322.63,323.77 322.77,320.92 322.91,318.06 323.04,315.20 323.18,312.33 323.31,309.46 323.45,306.59 323.59,303.71 323.72,300.82 323.86,297.93 323.99,295.04 324.13,292.14 324.27,289.24 324.40,286.33 324.54,283.42 324.68,280.50 324.81,277.58 324.95,274.66 325.08,271.73 325.22,268.79 325.36,265.85 325.49,262.91 325.63,259.97 325.76,257.02 325.90,254.06 326.04,251.11 326.17,248.15 326.31,245.18 326.44,242.22 326.58,239.25 326.72,236.28 326.85,233.31 326.99,230.34 327.13,227.36 327.26,224.39 327.40,221.41 327.53,218.43 327.67,220.98 327.81,223.53 327.94,226.07 328.08,228.62 328.21,231.16 328.35,233.71 328.49,236.25 328.62,238.79 328.76,241.33 328.89,243.87 329.03,246.40 329.17,248.94 329.30,251.47 329.44,254.00 329.57,256.52 329.71,259.04 329.85,261.56 329.98,264.06 330.12,266.57 330.26,269.06 330.39,271.55 330.53,274.03 330.66,276.50 330.80,278.97 330.94,281.42 331.07,283.87 331.21,286.31 331.34,288.74 331.48,291.17 331.62,293.59 331.75,296.01 331.89,298.42 332.02,300.84 332.16,303.27 332.30,305.69 332.43,308.13 332.57,310.58 332.71,313.05 332.84,315.53 332.98,318.03 333.11,320.55 333.25,323.10 333.39,325.68 333.52,328.28 333.66,330.91 333.79,333.58 333.93,336.27 334.07,339.00 334.20,341.75 334.34,344.53 334.47,347.34 334.61,350.17 334.75,353.03 335.97,355.80 337.33,357.10 338.69,357.55 340.05,357.64 341.42,357.66 342.78,357.67 344.14,357.67 345.50,357.68 346.86,357.68 348.22,357.69 349.58,357.69 350.94,357.70 352.30,357.70 353.66,357.71 355.03,357.71 356.39,357.72 357.75,357.72 359.11,357.73 360.47,357.73 361.83,357.74 363.19,357.75 364.55,357.75 365.91,357.76 367.27,357.76 368.64,357.77 370.00,357.77 371.36,357.77 372.72,357.77 374.08,357.75 375.44,357.73 376.80,357.71 378.16,357.54 379.52,355.82 380.88,354.31 382.25,353.09 383.61,352.15 384.97,351.40 386.33,350.71 387.69,350.07 387.83,350.01 389.05,352.91 390.41,356.29 391.77,359.80 393.13,363.34 394.49,366.71 395.86,369.78 397.22,372.51 398.58,373.61 399.94,373.92" fill="none" stroke="#1a1a1a" stroke-width="0.7" stroke-linejoin="round"/>
<polyline points="284.25,374.17 285.61,372.96 286.98,373.55 288.34,372.91 289.70,372.50 291.06,372.91 292.42,372.06 293.78,373.92 295.14,373.23 296.50,373.83 297.86,373.90 299.22,373.48 300.59,373.19 301.95,373.05 303.31,372.99 304.67,371.70 306.03,372.72 307.39,374.20 308.75,373.22 310.11,373.83 311.47,373.75 312.83,372.39 314.20,373.53 315.56,374.20 316.92,373.15 318.28,373.57 319.64,374.11 320.32,372.54 320.46,369.79 320.59,367.04 320.73,364.28 320.86,361.51 321.00,358.74 321.00,358.74 321.14,355.95 321.27,353.16 321.41,350.36 321.55,347.56 321.68,344.75 321.82,341.89 321.95,339.02 322.09,336.14 322.23,333.26 322.36,330.38 322.50,327.44 322.63,324.51 322.77,321.56 322.91,318.62 323.04,315.67 323.18,312.72 323.31,309.76 323.45,306.80 323.59,303.83 323.72,300.86 323.86,298.03 323.99,295.19 324.13,292.35 324.27,289.51 324.40,286.66 324.54,283.81 324.68,280.95 324.81,278.09 324.95,275.22 325.08,272.35 325.22,269.34 325.36,266.33 325.49,263.31 325.63,260.30 325.76,257.27 325.90,254.25 326.04,251.22 326.17,248.19 326.31,245.15 326.44,242.12 326.58,238.89 326.72,235.66 326.85,232.44 326.99,229.21 327.13,225.97 327.26,222.74 327.40,219.50 327.53,216.27 327.67,218.56 327.81,220.85 327.94,223.78 328.08,226.71 328.21,229.64 328.35,232.57 328.49,235.50 328.62,238.42 328.76,241.34 328.89,244.27 329.03,247.19 329.17,250.10 329.30,252.64 329.44,255.16 329.57,257.69 329.71,260.21 329.85,262.73 329.98,265.24 330.12,267.74 330.26,270.24 330.39,272.72 330.53,275.21 330.66,277.60 330.80,279.98 330.94,282.35 331.07,284.71 331.21,287.07 331.34,289.42 331.48,291.76 331.62,294.09 331.75,296.42 331.89,298.75 332.02,300.95 332.16,303.15 332.30,305.35 332.43,307.55 332.57,309.74 332.71,311.94 332.84,314.13 332.98,316.32 333.11,318.51 333.25,320.70 333.39,323.34 333.52,325.99 333.66,328.65 333.79,331.32 333.93,334.00 334.07,336.70 334.20,339.44 334.34,342.21 334.47,345.01 334.61,347.83 334.75,350.18 335.97,351.07 337.33,356.80 338.69,356.27 340.05,356.73 341.42,358.54 342.78,358.36 344.14,357.17 345.50,356.87 346.86,357.56 348.22,357.99 349.58,356.20 350.94,357.25 352.30,357.97 353.66,356.36 355.03,358.72 356.39,357.54 357.75,356.99 359.11,357.74 360.47,358.37 361.83,357.35 363.19,358.35 364.55,358.41 365.91,358.89 367.27,356.31 368.64,358.38 370.00,356.49 371.36,357.35 372.72,358.06 374.08,357.01 375.44,357.43 376.80,357.56 378.16,359.08 379.52,355.73 380.88,353.25 382.25,352.50 383.61,350.92 384.97,349.51 386.33,350.07 387.69,346.71 387.83,346.99 389.05,352.91 390.41,354.84 391.77,361.95 393.13,362.46 394.49,366.62 395.86,368.38 397.22,372.79 398.58,374.20 399.94,372.98" fill="none" stroke="#555" stroke-width="0.7" stroke-linejoin="round"/>
<g stroke="#141414" stroke-width="0.9"><line x1="260.30" y1="207.80" x2="260.30" y2="379.70"/><line x1="254.80" y1="374.20" x2="464.85" y2="374.20"/><line x1="257.80" y1="365.88" x2="260.30" y2="365.88"/><line x1="257.80" y1="357.56" x2="260.30" y2="357.56"/><line x1="257.80" y1="349.24" x2="260.30" y2="349.24"/><line x1="257.80" y1="340.92" x2="260.30" y2="340.92"/><line x1="254.80" y1="332.60" x2="260.30" y2="332.60"/><line x1="257.80" y1="324.28" x2="260.30" y2="324.28"/><line x1="257.80" y1="315.96" x2="260.30" y2="315.96"/><line x1="257.80" y1="307.64" x2="260.30" y2="307.64"/><line x1="257.80" y1="299.32" x2="260.30" y2="299.32"/><line x1="254.80" y1="291.00" x2="260.30" y2="291.00"/><line x1="257.80" y1="282.68" x2="260.30" y2="282.68"/><line x1="257.80" y1="274.36" x2="260.30" y2="274.36"/><line x1="257.80" y1="266.04" x2="260.30" y2="266.04"/><line x1="257.80" y1="257.72" x2="260.30" y2="257.72"/><line x1="254.80" y1="249.40" x2="260.30" y2="249.40"/><line x1="257.80" y1="241.08" x2="260.30" y2="241.08"/><line x1="257.80" y1="232.76" x2="260.30" y2="232.76"/><line x1="257.80" y1="224.44" x2="260.30" y2="224.44"/><line x1="257.80" y1="216.12" x2="260.30" y2="216.12"/><line x1="268.47" y1="374.20" x2="268.47" y2="376.70"/><line x1="276.63" y1="374.20" x2="276.63" y2="376.70"/><line x1="284.80" y1="374.20" x2="284.80" y2="376.70"/><line x1="292.96" y1="374.20" x2="292.96" y2="376.70"/><line x1="301.13" y1="374.20" x2="301.13" y2="379.70"/><line x1="309.30" y1="374.20" x2="309.30" y2="376.70"/><line x1="317.46" y1="374.20" x2="317.46" y2="376.70"/><line x1="325.63" y1="374.20" x2="325.63" y2="376.70"/><line x1="333.79" y1="374.20" x2="333.79" y2="376.70"/><line x1="341.96" y1="374.20" x2="341.96" y2="379.70"/><line x1="350.13" y1="374.20" x2="350.13" y2="376.70"/><line x1="358.29" y1="374.20" x2="358.29" y2="376.70"/><line x1="366.46" y1="374.20" x2="366.46" y2="376.70"/><line x1="374.62" y1="374.20" x2="374.62" y2="376.70"/><line x1="382.79" y1="374.20" x2="382.79" y2="379.70"/><line x1="390.96" y1="374.20" x2="390.96" y2="376.70"/><line x1="399.12" y1="374.20" x2="399.12" y2="376.70"/><line x1="407.29" y1="374.20" x2="407.29" y2="376.70"/><line x1="415.45" y1="374.20" x2="415.45" y2="376.70"/><line x1="423.62" y1="374.20" x2="423.62" y2="379.70"/><line x1="431.79" y1="374.20" x2="431.79" y2="376.70"/><line x1="439.95" y1="374.20" x2="439.95" y2="376.70"/><line x1="448.12" y1="374.20" x2="448.12" y2="376.70"/><line x1="456.28" y1="374.20" x2="456.28" y2="376.70"/><line x1="464.45" y1="374.20" x2="464.45" y2="379.70"/></g>
<g font-family="Liberation Sans, sans-serif" font-size="6" fill="#3a3a3a" stroke="#3a3a3a" stroke-width="0.12"><text transform="translate(250.30,374.20) rotate(-90)" text-anchor="middle">0</text><text transform="translate(250.30,332.60) rotate(-90)" text-anchor="middle">200</text><text transform="translate(250.30,291.00) rotate(-90)" text-anchor="middle">400</text><text transform="translate(250.30,249.40) rotate(-90)" text-anchor="middle">600</text><text x="260.30" y="387.20" text-anchor="middle">0</text><text x="301.13" y="387.20" text-anchor="middle">30</text><text x="341.96" y="387.20" text-anchor="middle">60</text><text x="382.79" y="387.20" text-anchor="middle">90</text><text x="423.62" y="387.20" text-anchor="middle">120</text><text x="464.45" y="387.20" text-anchor="middle">150</text></g>
<text x="362.38" y="393.90" text-anchor="middle" font-family="Liberation Sans, sans-serif" font-size="7" fill="#404040">Channels (FL2-A)</text>
<text transform="translate(244.50,291.00) rotate(-90)" text-anchor="middle" font-family="Liberation Sans, sans-serif" font-size="6.7" fill="#404040">Number</text>
<path d="M327.26,375.50 L324.56,380.40 L329.96,380.40 Z" fill="#000"/>
<text x="415.10" y="234.90" font-family="Liberation Serif, serif" font-size="8.8"  textLength="38.5" lengthAdjust="spacingAndGlyphs" fill="#222" stroke="#222" stroke-width="0.08">130.46 µM</text>
<g stroke="#3a3a3a" stroke-width="1.0">
<line x1="95.5" y1="418.0" x2="95.5" y2="530.8"/>
<line x1="95.0" y1="530.3" x2="371.3" y2="530.3"/>
<line x1="95.5" y1="530.0" x2="98.1" y2="530.0"/>
<line x1="95.5" y1="511.3" x2="98.1" y2="511.3"/>
<line x1="95.5" y1="492.7" x2="98.1" y2="492.7"/>
<line x1="95.5" y1="474.0" x2="98.1" y2="474.0"/>
<line x1="95.5" y1="455.4" x2="98.1" y2="455.4"/>
<line x1="95.5" y1="436.7" x2="98.1" y2="436.7"/>
<line x1="95.5" y1="418.0" x2="98.1" y2="418.0"/>
<line x1="95.5" y1="530.0" x2="95.5" y2="526.8"/>
<line x1="164.5" y1="530.0" x2="164.5" y2="526.8"/>
<line x1="233.5" y1="530.0" x2="233.5" y2="526.8"/>
<line x1="302.5" y1="530.0" x2="302.5" y2="526.8"/>
<line x1="371.5" y1="530.0" x2="371.5" y2="526.8"/>
</g>
<g font-family="Liberation Serif, serif" font-size="7.5" fill="#222"><text x="87.8" y="531.9" text-anchor="end">0%</text><text x="87.8" y="513.6" text-anchor="end">20%</text><text x="87.8" y="495.3" text-anchor="end">40%</text><text x="87.8" y="477.0" text-anchor="end">60%</text><text x="87.8" y="458.7" text-anchor="end">80%</text><text x="87.8" y="440.4" text-anchor="end">100%</text><text x="87.8" y="422.1" text-anchor="end">120%</text></g>
<text transform="translate(63.9,475.9) rotate(-90)" text-anchor="middle" font-family="Liberation Serif, serif" font-size="12.3" fill="#505050">Percentage</text>
<rect x="115.4" y="475.23" width="28.4" height="54.77" fill="#9999ff" stroke="#111" stroke-width="0.8"/>
<rect x="115.4" y="451.16" width="28.4" height="24.07" fill="#993366" stroke="#111" stroke-width="0.8"/>
<rect x="115.4" y="436.70" width="28.4" height="14.46" fill="#ffffcc" stroke="#111" stroke-width="0.8"/>
<path d="M129.6,474.43 V476.03 M128.0,474.43 h3.2 M128.0,476.03 h3.2" stroke="#111" stroke-width="0.8" fill="none"/>
<path d="M129.6,448.36 V453.96 M128.0,448.36 h3.2 M128.0,453.96 h3.2" stroke="#111" stroke-width="0.8" fill="none"/>
<path d="M129.6,435.30 V438.10 M128.0,435.30 h3.2 M128.0,438.10 h3.2" stroke="#111" stroke-width="0.8" fill="none"/>
<text x="129.6" y="544.6" text-anchor="middle" font-family="Liberation Serif, serif" font-size="8" fill="#222">Control</text>
<rect x="184.4" y="479.43" width="28.4" height="50.57" fill="#9999ff" stroke="#111" stroke-width="0.8"/>
<rect x="184.4" y="447.06" width="28.4" height="32.38" fill="#993366" stroke="#111" stroke-width="0.8"/>
<rect x="184.4" y="436.70" width="28.4" height="10.36" fill="#ffffcc" stroke="#111" stroke-width="0.8"/>
<path d="M198.6,478.63 V480.23 M197.0,478.63 h3.2 M197.0,480.23 h3.2" stroke="#111" stroke-width="0.8" fill="none"/>
<path d="M198.6,446.26 V447.86 M197.0,446.26 h3.2 M197.0,447.86 h3.2" stroke="#111" stroke-width="0.8" fill="none"/>
<path d="M198.6,435.90 V437.50 M197.0,435.90 h3.2 M197.0,437.50 h3.2" stroke="#111" stroke-width="0.8" fill="none"/>
<text x="198.6" y="544.6" text-anchor="middle" font-family="Liberation Serif, serif" font-size="8" fill="#222">GRg6 8.15µM</text>
<rect x="253.4" y="484.38" width="28.4" height="45.62" fill="#9999ff" stroke="#111" stroke-width="0.8"/>
<rect x="253.4" y="445.38" width="28.4" height="39.00" fill="#993366" stroke="#111" stroke-width="0.8"/>
<rect x="253.4" y="436.70" width="28.4" height="8.68" fill="#ffffcc" stroke="#111" stroke-width="0.8"/>
<path d="M267.6,483.58 V485.18 M266.0,483.58 h3.2 M266.0,485.18 h3.2" stroke="#111" stroke-width="0.8" fill="none"/>
<path d="M267.6,444.58 V446.18 M266.0,444.58 h3.2 M266.0,446.18 h3.2" stroke="#111" stroke-width="0.8" fill="none"/>
<path d="M267.6,435.90 V437.50 M266.0,435.90 h3.2 M266.0,437.50 h3.2" stroke="#111" stroke-width="0.8" fill="none"/>
<text x="267.6" y="544.6" text-anchor="middle" font-family="Liberation Serif, serif" font-size="8" fill="#222">GRg6 65.23µM</text>
<rect x="322.4" y="487.64" width="28.4" height="42.36" fill="#9999ff" stroke="#111" stroke-width="0.8"/>
<rect x="322.4" y="443.51" width="28.4" height="44.13" fill="#993366" stroke="#111" stroke-width="0.8"/>
<rect x="322.4" y="436.70" width="28.4" height="6.81" fill="#ffffcc" stroke="#111" stroke-width="0.8"/>
<path d="M336.6,486.52 V488.76 M335.0,486.52 h3.2 M335.0,488.76 h3.2" stroke="#111" stroke-width="0.8" fill="none"/>
<path d="M336.6,442.58 V444.44 M335.0,442.58 h3.2 M335.0,444.44 h3.2" stroke="#111" stroke-width="0.8" fill="none"/>
<path d="M336.6,435.77 V437.63 M335.0,435.77 h3.2 M335.0,437.63 h3.2" stroke="#111" stroke-width="0.8" fill="none"/>
<text x="336.6" y="544.6" text-anchor="middle" font-family="Liberation Serif, serif" font-size="8" fill="#222">GRg6 130.46µM</text>
<rect x="377.6" y="456.9" width="4.8" height="4" fill="#ffffcc" stroke="#111" stroke-width="0.8"/>
<text y="463.7" font-family="Liberation Serif, serif" font-size="9.6" fill="#3a3a3a"><tspan x="384.5">G2</tspan><tspan x="399.3">(</tspan><tspan x="403.9">%</tspan><tspan x="412.5">)</tspan></text>
<rect x="377.6" y="470.8" width="4.8" height="4" fill="#993366" stroke="#111" stroke-width="0.8"/>
<text y="477.6" font-family="Liberation Serif, serif" font-size="9.6" fill="#3a3a3a"><tspan x="384.5">S</tspan><tspan x="393.6">(</tspan><tspan x="398.4">%</tspan><tspan x="407.4">)</tspan></text>
<rect x="377.6" y="485.3" width="4.8" height="4" fill="#9999ff" stroke="#111" stroke-width="0.8"/>
<text y="492.1" font-family="Liberation Serif, serif" font-size="9.6" fill="#3a3a3a"><tspan x="384.5">G1</tspan><tspan x="399.3">(</tspan><tspan x="403.9">%</tspan><tspan x="412.5">)</tspan></text>
<text x="228.8" y="19" font-family="Liberation Serif, serif" font-weight="bold" font-size="11.7" fill="#111">(a)</text>
<text x="228.7" y="408.3" font-family="Liberation Serif, serif" font-weight="bold" font-size="11.7" fill="#111">(b)</text>
</svg></body></html>
